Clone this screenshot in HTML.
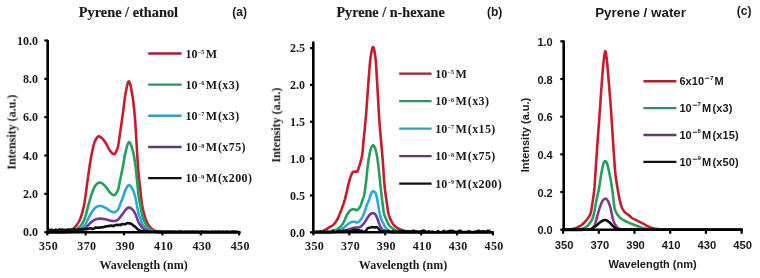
<!DOCTYPE html>
<html><head><meta charset="utf-8"><style>
html,body{margin:0;padding:0;background:#fff;}
svg{display:block;filter:blur(0.3px);}
text{will-change:transform;}
</style></head><body>
<svg width="760" height="278" viewBox="0 0 760 278">
<rect width="760" height="278" fill="#fff"/>
<g id="pa">
<path d="M47.00 232.20 L47.50 232.20 L48.00 232.20 L48.50 232.20 L49.00 232.20 L49.50 232.20 L50.00 232.20 L50.50 232.20 L51.00 232.20 L51.50 232.20 L52.00 232.20 L52.50 232.20 L53.00 232.20 L53.50 232.20 L54.00 232.20 L54.50 232.20 L55.00 232.20 L55.50 232.20 L56.00 232.20 L56.50 232.20 L57.00 232.20 L57.50 232.20 L58.00 232.20 L58.50 232.20 L59.00 232.20 L59.50 232.20 L60.00 232.20 L60.50 232.19 L61.00 232.18 L61.50 232.15 L62.00 232.11 L62.50 232.07 L63.00 232.02 L63.50 231.96 L64.00 231.90 L64.50 231.84 L65.00 231.77 L65.50 231.70 L66.00 231.62 L66.50 231.55 L67.00 231.46 L67.50 231.36 L68.00 231.25 L68.50 231.12 L69.00 230.98 L69.50 230.83 L70.00 230.66 L70.50 230.48 L71.00 230.28 L71.50 230.04 L72.00 229.74 L72.50 229.38 L73.00 228.97 L73.50 228.53 L74.00 228.05 L74.50 227.54 L75.00 227.02 L75.50 226.48 L76.00 225.90 L76.50 225.27 L77.00 224.60 L77.50 223.87 L78.00 223.09 L78.50 222.24 L79.00 221.33 L79.50 220.35 L80.00 219.27 L80.50 218.05 L81.00 216.68 L81.50 215.16 L82.00 213.48 L82.50 211.67 L83.00 209.71 L83.50 207.60 L84.00 205.36 L84.50 202.72 L85.00 199.53 L85.50 195.94 L86.00 192.11 L86.50 188.19 L87.00 184.35 L87.50 180.74 L88.00 177.33 L88.50 173.86 L89.00 170.37 L89.50 166.94 L90.00 163.61 L90.50 160.46 L91.00 157.55 L91.50 154.94 L92.00 152.51 L92.50 150.12 L93.00 147.85 L93.50 145.75 L94.00 143.88 L94.50 142.33 L95.00 141.14 L95.50 140.17 L96.00 139.24 L96.50 138.38 L97.00 137.63 L97.50 137.02 L98.00 136.59 L98.50 136.37 L99.00 136.37 L99.50 136.50 L100.00 136.73 L100.50 137.02 L101.00 137.37 L101.50 137.75 L102.00 138.13 L102.50 138.57 L103.00 139.11 L103.50 139.73 L104.00 140.42 L104.50 141.16 L105.00 141.93 L105.50 142.71 L106.00 143.48 L106.50 144.31 L107.00 145.23 L107.50 146.22 L108.00 147.22 L108.50 148.20 L109.00 149.12 L109.50 149.93 L110.00 150.61 L110.50 151.22 L111.00 151.84 L111.50 152.44 L112.00 152.99 L112.50 153.47 L113.00 153.84 L113.50 154.09 L114.00 154.18 L114.50 154.02 L115.00 153.56 L115.50 152.86 L116.00 151.94 L116.50 150.85 L117.00 149.64 L117.50 148.35 L118.00 146.55 L118.50 143.95 L119.00 140.77 L119.50 137.23 L120.00 133.58 L120.50 130.02 L121.00 126.70 L121.50 123.30 L122.00 119.82 L122.50 116.26 L123.00 112.66 L123.50 108.77 L124.00 104.60 L124.50 100.48 L125.00 96.74 L125.50 93.72 L126.00 91.11 L126.50 88.52 L127.00 86.09 L127.50 84.00 L128.00 82.41 L128.50 81.49 L129.00 81.40 L129.50 82.09 L130.00 83.45 L130.50 85.34 L131.00 87.65 L131.50 90.24 L132.00 92.98 L132.50 95.78 L133.00 99.13 L133.50 103.22 L134.00 107.95 L134.50 113.21 L135.00 118.92 L135.50 125.54 L136.00 133.69 L136.50 142.41 L137.00 150.73 L137.50 158.84 L138.00 166.88 L138.50 173.74 L139.00 178.79 L139.50 182.88 L140.00 186.77 L140.50 191.19 L141.00 196.06 L141.50 200.62 L142.00 204.14 L142.50 206.91 L143.00 209.35 L143.50 211.51 L144.00 213.46 L144.50 215.26 L145.00 216.96 L145.50 218.56 L146.00 220.02 L146.50 221.31 L147.00 222.39 L147.50 223.32 L148.00 224.19 L148.50 224.99 L149.00 225.72 L149.50 226.38 L150.00 226.98 L150.50 227.51 L151.00 227.98 L151.50 228.39 L152.00 228.79 L152.50 229.16 L153.00 229.51 L153.50 229.83 L154.00 230.12 L154.50 230.39 L155.00 230.62 L155.50 230.82 L156.00 230.99 L156.50 231.15 L157.00 231.30 L157.50 231.44 L158.00 231.58 L158.50 231.71 L159.00 231.83 L159.50 231.93 L160.00 232.02 L160.50 232.10 L161.00 232.15 L161.50 232.19 L162.00 232.20 L162.50 232.20 L163.00 232.20 L163.50 232.20 L164.00 232.20 L164.50 232.20 L165.00 232.20 L165.50 232.20 L166.00 232.20 L166.50 232.20 L167.00 232.20 L167.50 232.20 L168.00 232.20 L168.50 232.20 L169.00 232.20 L169.50 232.20 L170.00 232.20 L170.50 232.20 L171.00 232.20 L171.50 232.20 L172.00 232.20 L172.50 232.20 L173.00 232.20 L173.50 232.20 L174.00 232.20 L174.50 232.20 L175.00 232.20 L175.50 232.20 L176.00 232.20 L176.50 232.20 L177.00 232.20 L177.50 232.20 L178.00 232.20 L178.50 232.20 L179.00 232.20 L179.50 232.20 L180.00 232.20 L180.50 232.20 L181.00 232.20 L181.50 232.20 L182.00 232.20 L182.50 232.20 L183.00 232.20 L183.50 232.20 L184.00 232.20 L184.50 232.20 L185.00 232.20 L185.50 232.20 L186.00 232.20 L186.50 232.20 L187.00 232.20 L187.50 232.20 L188.00 232.20 L188.50 232.20 L189.00 232.20 L189.50 232.20 L190.00 232.20 L190.50 232.20 L191.00 232.20 L191.50 232.20 L192.00 232.20 L192.50 232.20 L193.00 232.20 L193.50 232.20 L194.00 232.20 L194.50 232.20 L195.00 232.20 L195.50 232.20 L196.00 232.20 L196.50 232.20 L197.00 232.20 L197.50 232.20 L198.00 232.20 L198.50 232.20 L199.00 232.20 L199.50 232.20 L200.00 232.20 L200.50 232.20 L201.00 232.20 L201.50 232.20 L202.00 232.20 L202.50 232.20 L203.00 232.20 L203.50 232.20 L204.00 232.20 L204.50 232.20 L205.00 232.20 L205.50 232.20 L206.00 232.20 L206.50 232.20 L207.00 232.20 L207.50 232.20 L208.00 232.20 L208.50 232.20 L209.00 232.20 L209.50 232.20 L210.00 232.20 L210.50 232.20 L211.00 232.20 L211.50 232.20 L212.00 232.20 L212.50 232.20 L213.00 232.20 L213.50 232.20 L214.00 232.20 L214.50 232.20 L215.00 232.20 L215.50 232.20 L216.00 232.20 L216.50 232.20 L217.00 232.20 L217.50 232.20 L218.00 232.20 L218.50 232.20 L219.00 232.20 L219.50 232.20 L220.00 232.20 L220.50 232.20 L221.00 232.20 L221.50 232.20 L222.00 232.20 L222.50 232.20 L223.00 232.20 L223.50 232.20 L224.00 232.20 L224.50 232.20 L225.00 232.20 L225.50 232.20 L226.00 232.20 L226.50 232.20 L227.00 232.20 L227.50 232.20 L228.00 232.20 L228.50 232.20 L229.00 232.20 L229.50 232.20 L230.00 232.20 L230.50 232.20 L231.00 232.20 L231.50 232.20 L232.00 232.20 L232.50 232.20 L233.00 232.20 L233.50 232.20 L234.00 232.20 L234.50 232.20 L235.00 232.20 L235.50 232.20 L236.00 232.20 L236.50 232.20 L237.00 232.20 L237.50 232.20 L238.00 232.20 L238.50 232.20 L239.00 232.20" fill="none" stroke="#CA1B2D" stroke-width="2.60" stroke-linejoin="round" stroke-linecap="round" />
<path d="M47.00 232.20 L47.50 232.20 L48.00 232.20 L48.50 232.20 L49.00 232.20 L49.50 232.20 L50.00 232.20 L50.50 232.20 L51.00 232.20 L51.50 232.20 L52.00 232.20 L52.50 232.20 L53.00 232.20 L53.50 232.20 L54.00 232.20 L54.50 232.20 L55.00 232.20 L55.50 232.20 L56.00 232.20 L56.50 232.20 L57.00 232.20 L57.50 232.20 L58.00 232.20 L58.50 232.20 L59.00 232.20 L59.50 232.20 L60.00 232.20 L60.50 232.20 L61.00 232.19 L61.50 232.18 L62.00 232.17 L62.50 232.15 L63.00 232.13 L63.50 232.10 L64.00 232.08 L64.50 232.05 L65.00 232.02 L65.50 231.99 L66.00 231.96 L66.50 231.92 L67.00 231.89 L67.50 231.85 L68.00 231.80 L68.50 231.75 L69.00 231.69 L69.50 231.62 L70.00 231.54 L70.50 231.46 L71.00 231.37 L71.50 231.27 L72.00 231.16 L72.50 231.02 L73.00 230.85 L73.50 230.66 L74.00 230.44 L74.50 230.20 L75.00 229.95 L75.50 229.68 L76.00 229.41 L76.50 229.12 L77.00 228.81 L77.50 228.47 L78.00 228.11 L78.50 227.73 L79.00 227.31 L79.50 226.86 L80.00 226.37 L80.50 225.84 L81.00 225.26 L81.50 224.60 L82.00 223.85 L82.50 223.03 L83.00 222.14 L83.50 221.17 L84.00 220.12 L84.50 219.00 L85.00 217.79 L85.50 216.30 L86.00 214.55 L86.50 212.63 L87.00 210.62 L87.50 208.60 L88.00 206.65 L88.50 204.84 L89.00 203.06 L89.50 201.26 L90.00 199.46 L90.50 197.70 L91.00 196.01 L91.50 194.42 L92.00 192.97 L92.50 191.68 L93.00 190.42 L93.50 189.20 L94.00 188.06 L94.50 187.01 L95.00 186.11 L95.50 185.38 L96.00 184.83 L96.50 184.33 L97.00 183.86 L97.50 183.44 L98.00 183.08 L98.50 182.80 L99.00 182.61 L99.50 182.55 L100.00 182.60 L100.50 182.73 L101.00 182.93 L101.50 183.18 L102.00 183.45 L102.50 183.74 L103.00 184.05 L103.50 184.44 L104.00 184.90 L104.50 185.42 L105.00 185.97 L105.50 186.54 L106.00 187.13 L106.50 187.71 L107.00 188.34 L107.50 189.05 L108.00 189.79 L108.50 190.54 L109.00 191.26 L109.50 191.91 L110.00 192.47 L110.50 192.93 L111.00 193.40 L111.50 193.85 L112.00 194.28 L112.50 194.65 L113.00 194.94 L113.50 195.13 L114.00 195.20 L114.50 195.09 L115.00 194.77 L115.50 194.27 L116.00 193.63 L116.50 192.86 L117.00 192.01 L117.50 191.09 L118.00 189.89 L118.50 188.12 L119.00 185.91 L119.50 183.43 L120.00 180.82 L120.50 178.25 L121.00 175.84 L121.50 173.44 L122.00 170.97 L122.50 168.44 L123.00 165.88 L123.50 163.21 L124.00 160.28 L124.50 157.29 L125.00 154.47 L125.50 152.05 L126.00 150.14 L126.50 148.27 L127.00 146.46 L127.50 144.83 L128.00 143.48 L128.50 142.54 L129.00 142.11 L129.50 142.25 L130.00 142.84 L130.50 143.78 L131.00 145.02 L131.50 146.47 L132.00 148.07 L132.50 149.73 L133.00 151.47 L133.50 153.66 L134.00 156.26 L134.50 159.22 L135.00 162.48 L135.50 166.00 L136.00 170.37 L136.50 175.44 L137.00 180.63 L137.50 185.45 L138.00 190.35 L138.50 194.95 L139.00 198.59 L139.50 201.32 L140.00 203.66 L140.50 206.07 L141.00 208.86 L141.50 211.75 L142.00 214.28 L142.50 216.13 L143.00 217.70 L143.50 219.09 L144.00 220.32 L144.50 221.45 L145.00 222.49 L145.50 223.49 L146.00 224.41 L146.50 225.25 L147.00 225.97 L147.50 226.57 L148.00 227.11 L148.50 227.61 L149.00 228.07 L149.50 228.49 L150.00 228.87 L150.50 229.22 L151.00 229.52 L151.50 229.78 L152.00 230.02 L152.50 230.25 L153.00 230.47 L153.50 230.67 L154.00 230.86 L154.50 231.02 L155.00 231.17 L155.50 231.31 L156.00 231.42 L156.50 231.52 L157.00 231.61 L157.50 231.69 L158.00 231.78 L158.50 231.86 L159.00 231.94 L159.50 232.00 L160.00 232.06 L160.50 232.11 L161.00 232.15 L161.50 232.18 L162.00 232.20 L162.50 232.20 L163.00 232.20 L163.50 232.20 L164.00 232.20 L164.50 232.20 L165.00 232.20 L165.50 232.20 L166.00 232.20 L166.50 232.20 L167.00 232.20 L167.50 232.20 L168.00 232.20 L168.50 232.20 L169.00 232.20 L169.50 232.20 L170.00 232.20 L170.50 232.20 L171.00 232.20 L171.50 232.20 L172.00 232.20 L172.50 232.20 L173.00 232.20 L173.50 232.20 L174.00 232.20 L174.50 232.20 L175.00 232.20 L175.50 232.20 L176.00 232.20 L176.50 232.20 L177.00 232.20 L177.50 232.20 L178.00 232.20 L178.50 232.20 L179.00 232.20 L179.50 232.20 L180.00 232.20 L180.50 232.20 L181.00 232.20 L181.50 232.20 L182.00 232.20 L182.50 232.20 L183.00 232.20 L183.50 232.20 L184.00 232.20 L184.50 232.20 L185.00 232.20 L185.50 232.20 L186.00 232.20 L186.50 232.20 L187.00 232.20 L187.50 232.20 L188.00 232.20 L188.50 232.20 L189.00 232.20 L189.50 232.20 L190.00 232.20 L190.50 232.20 L191.00 232.20 L191.50 232.20 L192.00 232.20 L192.50 232.20 L193.00 232.20 L193.50 232.20 L194.00 232.20 L194.50 232.20 L195.00 232.20 L195.50 232.20 L196.00 232.20 L196.50 232.20 L197.00 232.20 L197.50 232.20 L198.00 232.20 L198.50 232.20 L199.00 232.20 L199.50 232.20 L200.00 232.20 L200.50 232.20 L201.00 232.20 L201.50 232.20 L202.00 232.20 L202.50 232.20 L203.00 232.20 L203.50 232.20 L204.00 232.20 L204.50 232.20 L205.00 232.20 L205.50 232.20 L206.00 232.20 L206.50 232.20 L207.00 232.20 L207.50 232.20 L208.00 232.20 L208.50 232.20 L209.00 232.20 L209.50 232.20 L210.00 232.20 L210.50 232.20 L211.00 232.20 L211.50 232.20 L212.00 232.20 L212.50 232.20 L213.00 232.20 L213.50 232.20 L214.00 232.20 L214.50 232.20 L215.00 232.20 L215.50 232.20 L216.00 232.20 L216.50 232.20 L217.00 232.20 L217.50 232.20 L218.00 232.20 L218.50 232.20 L219.00 232.20 L219.50 232.20 L220.00 232.20 L220.50 232.20 L221.00 232.20 L221.50 232.20 L222.00 232.20 L222.50 232.20 L223.00 232.20 L223.50 232.20 L224.00 232.20 L224.50 232.20 L225.00 232.20 L225.50 232.20 L226.00 232.20 L226.50 232.20 L227.00 232.20 L227.50 232.20 L228.00 232.20 L228.50 232.20 L229.00 232.20 L229.50 232.20 L230.00 232.20 L230.50 232.20 L231.00 232.20 L231.50 232.20 L232.00 232.20 L232.50 232.20 L233.00 232.20 L233.50 232.20 L234.00 232.20 L234.50 232.20 L235.00 232.20 L235.50 232.20 L236.00 232.20 L236.50 232.20 L237.00 232.20 L237.50 232.20 L238.00 232.20 L238.50 232.20 L239.00 232.20" fill="none" stroke="#22A05C" stroke-width="2.60" stroke-linejoin="round" stroke-linecap="round" />
<path d="M47.00 232.20 L47.50 232.20 L48.00 232.20 L48.50 232.20 L49.00 232.20 L49.50 232.20 L50.00 232.20 L50.50 232.20 L51.00 232.20 L51.50 232.20 L52.00 232.20 L52.50 232.20 L53.00 232.20 L53.50 232.20 L54.00 232.20 L54.50 232.20 L55.00 232.20 L55.50 232.20 L56.00 232.20 L56.50 232.20 L57.00 232.20 L57.50 232.20 L58.00 232.20 L58.50 232.20 L59.00 232.20 L59.50 232.20 L60.00 232.20 L60.50 232.20 L61.00 232.20 L61.50 232.19 L62.00 232.18 L62.50 232.17 L63.00 232.16 L63.50 232.15 L64.00 232.14 L64.50 232.13 L65.00 232.11 L65.50 232.09 L66.00 232.08 L66.50 232.06 L67.00 232.04 L67.50 232.02 L68.00 232.00 L68.50 231.97 L69.00 231.94 L69.50 231.91 L70.00 231.87 L70.50 231.83 L71.00 231.78 L71.50 231.73 L72.00 231.67 L72.50 231.61 L73.00 231.53 L73.50 231.43 L74.00 231.32 L74.50 231.19 L75.00 231.06 L75.50 230.92 L76.00 230.78 L76.50 230.63 L77.00 230.47 L77.50 230.30 L78.00 230.12 L78.50 229.92 L79.00 229.70 L79.50 229.47 L80.00 229.22 L80.50 228.95 L81.00 228.66 L81.50 228.32 L82.00 227.95 L82.50 227.53 L83.00 227.07 L83.50 226.57 L84.00 226.04 L84.50 225.46 L85.00 224.85 L85.50 224.12 L86.00 223.25 L86.50 222.26 L87.00 221.21 L87.50 220.14 L88.00 219.09 L88.50 218.10 L89.00 217.17 L89.50 216.21 L90.00 215.26 L90.50 214.32 L91.00 213.41 L91.50 212.54 L92.00 211.75 L92.50 211.03 L93.00 210.37 L93.50 209.71 L94.00 209.09 L94.50 208.51 L95.00 208.00 L95.50 207.58 L96.00 207.25 L96.50 206.98 L97.00 206.73 L97.50 206.49 L98.00 206.29 L98.50 206.12 L99.00 206.00 L99.50 205.94 L100.00 205.95 L100.50 206.00 L101.00 206.09 L101.50 206.21 L102.00 206.34 L102.50 206.49 L103.00 206.64 L103.50 206.82 L104.00 207.05 L104.50 207.30 L105.00 207.58 L105.50 207.86 L106.00 208.16 L106.50 208.45 L107.00 208.77 L107.50 209.12 L108.00 209.49 L108.50 209.87 L109.00 210.24 L109.50 210.58 L110.00 210.87 L110.50 211.11 L111.00 211.34 L111.50 211.57 L112.00 211.79 L112.50 211.98 L113.00 212.13 L113.50 212.23 L114.00 212.26 L114.50 212.20 L115.00 212.04 L115.50 211.78 L116.00 211.45 L116.50 211.05 L117.00 210.61 L117.50 210.13 L118.00 209.50 L118.50 208.57 L119.00 207.42 L119.50 206.13 L120.00 204.78 L120.50 203.46 L121.00 202.23 L121.50 200.98 L122.00 199.70 L122.50 198.40 L123.00 197.07 L123.50 195.68 L124.00 194.16 L124.50 192.62 L125.00 191.19 L125.50 189.98 L126.00 189.01 L126.50 188.05 L127.00 187.12 L127.50 186.30 L128.00 185.64 L128.50 185.20 L129.00 185.04 L129.50 185.17 L130.00 185.51 L130.50 186.04 L131.00 186.72 L131.50 187.49 L132.00 188.34 L132.50 189.21 L133.00 190.16 L133.50 191.35 L134.00 192.75 L134.50 194.33 L135.00 196.06 L135.50 197.96 L136.00 200.35 L136.50 203.04 L137.00 205.73 L137.50 208.24 L138.00 210.80 L138.50 213.13 L139.00 214.92 L139.50 216.29 L140.00 217.51 L140.50 218.80 L141.00 220.29 L141.50 221.78 L142.00 223.04 L142.50 223.96 L143.00 224.76 L143.50 225.47 L144.00 226.11 L144.50 226.68 L145.00 227.23 L145.50 227.74 L146.00 228.22 L146.50 228.64 L147.00 229.01 L147.50 229.31 L148.00 229.59 L148.50 229.85 L149.00 230.08 L149.50 230.30 L150.00 230.50 L150.50 230.67 L151.00 230.82 L151.50 230.96 L152.00 231.08 L152.50 231.20 L153.00 231.32 L153.50 231.42 L154.00 231.51 L154.50 231.60 L155.00 231.68 L155.50 231.75 L156.00 231.80 L156.50 231.85 L157.00 231.90 L157.50 231.94 L158.00 231.99 L158.50 232.03 L159.00 232.07 L159.50 232.10 L160.00 232.13 L160.50 232.16 L161.00 232.18 L161.50 232.19 L162.00 232.20 L162.50 232.20 L163.00 232.20 L163.50 232.20 L164.00 232.20 L164.50 232.20 L165.00 232.20 L165.50 232.20 L166.00 232.20 L166.50 232.20 L167.00 232.20 L167.50 232.20 L168.00 232.20 L168.50 232.20 L169.00 232.20 L169.50 232.20 L170.00 232.20 L170.50 232.20 L171.00 232.20 L171.50 232.20 L172.00 232.20 L172.50 232.20 L173.00 232.20 L173.50 232.20 L174.00 232.20 L174.50 232.20 L175.00 232.20 L175.50 232.20 L176.00 232.20 L176.50 232.20 L177.00 232.20 L177.50 232.20 L178.00 232.20 L178.50 232.20 L179.00 232.20 L179.50 232.20 L180.00 232.20 L180.50 232.20 L181.00 232.20 L181.50 232.20 L182.00 232.20 L182.50 232.20 L183.00 232.20 L183.50 232.20 L184.00 232.20 L184.50 232.20 L185.00 232.20 L185.50 232.20 L186.00 232.20 L186.50 232.20 L187.00 232.20 L187.50 232.20 L188.00 232.20 L188.50 232.20 L189.00 232.20 L189.50 232.20 L190.00 232.20 L190.50 232.20 L191.00 232.20 L191.50 232.20 L192.00 232.20 L192.50 232.20 L193.00 232.20 L193.50 232.20 L194.00 232.20 L194.50 232.20 L195.00 232.20 L195.50 232.20 L196.00 232.20 L196.50 232.20 L197.00 232.20 L197.50 232.20 L198.00 232.20 L198.50 232.20 L199.00 232.20 L199.50 232.20 L200.00 232.20 L200.50 232.20 L201.00 232.20 L201.50 232.20 L202.00 232.20 L202.50 232.20 L203.00 232.20 L203.50 232.20 L204.00 232.20 L204.50 232.20 L205.00 232.20 L205.50 232.20 L206.00 232.20 L206.50 232.20 L207.00 232.20 L207.50 232.20 L208.00 232.20 L208.50 232.20 L209.00 232.20 L209.50 232.20 L210.00 232.20 L210.50 232.20 L211.00 232.20 L211.50 232.20 L212.00 232.20 L212.50 232.20 L213.00 232.20 L213.50 232.20 L214.00 232.20 L214.50 232.20 L215.00 232.20 L215.50 232.20 L216.00 232.20 L216.50 232.20 L217.00 232.20 L217.50 232.20 L218.00 232.20 L218.50 232.20 L219.00 232.20 L219.50 232.20 L220.00 232.20 L220.50 232.20 L221.00 232.20 L221.50 232.20 L222.00 232.20 L222.50 232.20 L223.00 232.20 L223.50 232.20 L224.00 232.20 L224.50 232.20 L225.00 232.20 L225.50 232.20 L226.00 232.20 L226.50 232.20 L227.00 232.20 L227.50 232.20 L228.00 232.20 L228.50 232.20 L229.00 232.20 L229.50 232.20 L230.00 232.20 L230.50 232.20 L231.00 232.20 L231.50 232.20 L232.00 232.20 L232.50 232.20 L233.00 232.20 L233.50 232.20 L234.00 232.20 L234.50 232.20 L235.00 232.20 L235.50 232.20 L236.00 232.20 L236.50 232.20 L237.00 232.20 L237.50 232.20 L238.00 232.20 L238.50 232.20 L239.00 232.20" fill="none" stroke="#2AA8D6" stroke-width="2.60" stroke-linejoin="round" stroke-linecap="round" />
<path d="M47.00 232.20 L47.50 232.20 L48.00 232.20 L48.50 232.20 L49.00 232.20 L49.50 232.20 L50.00 232.20 L50.50 232.20 L51.00 232.20 L51.50 232.20 L52.00 232.20 L52.50 232.20 L53.00 232.20 L53.50 232.20 L54.00 232.20 L54.50 232.20 L55.00 232.20 L55.50 232.20 L56.00 232.20 L56.50 232.20 L57.00 232.20 L57.50 232.20 L58.00 232.20 L58.50 232.20 L59.00 232.20 L59.50 232.20 L60.00 232.20 L60.50 232.20 L61.00 232.20 L61.50 232.20 L62.00 232.19 L62.50 232.19 L63.00 232.18 L63.50 232.18 L64.00 232.17 L64.50 232.16 L65.00 232.15 L65.50 232.15 L66.00 232.14 L66.50 232.13 L67.00 232.12 L67.50 232.11 L68.00 232.10 L68.50 232.08 L69.00 232.07 L69.50 232.05 L70.00 232.03 L70.50 232.01 L71.00 231.98 L71.50 231.96 L72.00 231.93 L72.50 231.89 L73.00 231.85 L73.50 231.80 L74.00 231.74 L74.50 231.68 L75.00 231.61 L75.50 231.54 L76.00 231.47 L76.50 231.39 L77.00 231.31 L77.50 231.22 L78.00 231.12 L78.50 231.02 L79.00 230.91 L79.50 230.79 L80.00 230.66 L80.50 230.52 L81.00 230.36 L81.50 230.19 L82.00 230.00 L82.50 229.78 L83.00 229.54 L83.50 229.28 L84.00 229.01 L84.50 228.71 L85.00 228.39 L85.50 228.01 L86.00 227.56 L86.50 227.05 L87.00 226.51 L87.50 225.95 L88.00 225.41 L88.50 224.89 L89.00 224.41 L89.50 223.92 L90.00 223.42 L90.50 222.93 L91.00 222.46 L91.50 222.01 L92.00 221.60 L92.50 221.23 L93.00 220.88 L93.50 220.55 L94.00 220.22 L94.50 219.92 L95.00 219.66 L95.50 219.44 L96.00 219.27 L96.50 219.13 L97.00 219.00 L97.50 218.88 L98.00 218.77 L98.50 218.68 L99.00 218.62 L99.50 218.59 L100.00 218.59 L100.50 218.61 L101.00 218.65 L101.50 218.70 L102.00 218.75 L102.50 218.81 L103.00 218.86 L103.50 218.94 L104.00 219.03 L104.50 219.13 L105.00 219.23 L105.50 219.35 L106.00 219.47 L106.50 219.58 L107.00 219.70 L107.50 219.84 L108.00 219.99 L108.50 220.14 L109.00 220.29 L109.50 220.42 L110.00 220.53 L110.50 220.63 L111.00 220.72 L111.50 220.81 L112.00 220.89 L112.50 220.97 L113.00 221.03 L113.50 221.07 L114.00 221.08 L114.50 221.05 L115.00 220.97 L115.50 220.84 L116.00 220.67 L116.50 220.47 L117.00 220.25 L117.50 220.02 L118.00 219.70 L118.50 219.23 L119.00 218.66 L119.50 218.01 L120.00 217.34 L120.50 216.68 L121.00 216.06 L121.50 215.44 L122.00 214.80 L122.50 214.15 L123.00 213.49 L123.50 212.79 L124.00 212.03 L124.50 211.26 L125.00 210.54 L125.50 209.94 L126.00 209.46 L126.50 208.97 L127.00 208.51 L127.50 208.10 L128.00 207.77 L128.50 207.55 L129.00 207.47 L129.50 207.54 L130.00 207.72 L130.50 208.00 L131.00 208.35 L131.50 208.76 L132.00 209.20 L132.50 209.65 L133.00 210.15 L133.50 210.78 L134.00 211.51 L134.50 212.34 L135.00 213.25 L135.50 214.25 L136.00 215.50 L136.50 216.91 L137.00 218.32 L137.50 219.64 L138.00 220.98 L138.50 222.20 L139.00 223.14 L139.50 223.86 L140.00 224.49 L140.50 225.17 L141.00 225.96 L141.50 226.74 L142.00 227.40 L142.50 227.88 L143.00 228.30 L143.50 228.67 L144.00 229.00 L144.50 229.31 L145.00 229.59 L145.50 229.86 L146.00 230.11 L146.50 230.33 L147.00 230.53 L147.50 230.69 L148.00 230.83 L148.50 230.97 L149.00 231.09 L149.50 231.20 L150.00 231.31 L150.50 231.40 L151.00 231.48 L151.50 231.55 L152.00 231.62 L152.50 231.68 L153.00 231.74 L153.50 231.79 L154.00 231.84 L154.50 231.89 L155.00 231.93 L155.50 231.96 L156.00 231.99 L156.50 232.02 L157.00 232.04 L157.50 232.07 L158.00 232.09 L158.50 232.11 L159.00 232.13 L159.50 232.15 L160.00 232.17 L160.50 232.18 L161.00 232.19 L161.50 232.20 L162.00 232.20 L162.50 232.20 L163.00 232.20 L163.50 232.20 L164.00 232.20 L164.50 232.20 L165.00 232.20 L165.50 232.20 L166.00 232.20 L166.50 232.20 L167.00 232.20 L167.50 232.20 L168.00 232.20 L168.50 232.20 L169.00 232.20 L169.50 232.20 L170.00 232.20 L170.50 232.20 L171.00 232.20 L171.50 232.20 L172.00 232.20 L172.50 232.20 L173.00 232.20 L173.50 232.20 L174.00 232.20 L174.50 232.20 L175.00 232.20 L175.50 232.20 L176.00 232.20 L176.50 232.20 L177.00 232.20 L177.50 232.20 L178.00 232.20 L178.50 232.20 L179.00 232.20 L179.50 232.20 L180.00 232.20 L180.50 232.20 L181.00 232.20 L181.50 232.20 L182.00 232.20 L182.50 232.20 L183.00 232.20 L183.50 232.20 L184.00 232.20 L184.50 232.20 L185.00 232.20 L185.50 232.20 L186.00 232.20 L186.50 232.20 L187.00 232.20 L187.50 232.20 L188.00 232.20 L188.50 232.20 L189.00 232.20 L189.50 232.20 L190.00 232.20 L190.50 232.20 L191.00 232.20 L191.50 232.20 L192.00 232.20 L192.50 232.20 L193.00 232.20 L193.50 232.20 L194.00 232.20 L194.50 232.20 L195.00 232.20 L195.50 232.20 L196.00 232.20 L196.50 232.20 L197.00 232.20 L197.50 232.20 L198.00 232.20 L198.50 232.20 L199.00 232.20 L199.50 232.20 L200.00 232.20 L200.50 232.20 L201.00 232.20 L201.50 232.20 L202.00 232.20 L202.50 232.20 L203.00 232.20 L203.50 232.20 L204.00 232.20 L204.50 232.20 L205.00 232.20 L205.50 232.20 L206.00 232.20 L206.50 232.20 L207.00 232.20 L207.50 232.20 L208.00 232.20 L208.50 232.20 L209.00 232.20 L209.50 232.20 L210.00 232.20 L210.50 232.20 L211.00 232.20 L211.50 232.20 L212.00 232.20 L212.50 232.20 L213.00 232.20 L213.50 232.20 L214.00 232.20 L214.50 232.20 L215.00 232.20 L215.50 232.20 L216.00 232.20 L216.50 232.20 L217.00 232.20 L217.50 232.20 L218.00 232.20 L218.50 232.20 L219.00 232.20 L219.50 232.20 L220.00 232.20 L220.50 232.20 L221.00 232.20 L221.50 232.20 L222.00 232.20 L222.50 232.20 L223.00 232.20 L223.50 232.20 L224.00 232.20 L224.50 232.20 L225.00 232.20 L225.50 232.20 L226.00 232.20 L226.50 232.20 L227.00 232.20 L227.50 232.20 L228.00 232.20 L228.50 232.20 L229.00 232.20 L229.50 232.20 L230.00 232.20 L230.50 232.20 L231.00 232.20 L231.50 232.20 L232.00 232.20 L232.50 232.20 L233.00 232.20 L233.50 232.20 L234.00 232.20 L234.50 232.20 L235.00 232.20 L235.50 232.20 L236.00 232.20 L236.50 232.20 L237.00 232.20 L237.50 232.20 L238.00 232.20 L238.50 232.20 L239.00 232.20" fill="none" stroke="#6E3A96" stroke-width="2.60" stroke-linejoin="round" stroke-linecap="round" />
<polyline points="47.5,230.2 48.7,229.8 49.9,230.0 51.1,229.8 52.3,229.8 53.5,230.4 54.7,230.5 55.9,229.5 57.1,230.2 58.3,230.2 59.5,229.3 60.7,229.9 61.9,229.5 63.1,229.9 64.3,229.7 65.5,230.3 66.7,229.7 67.9,229.4 69.1,229.8 70.3,229.5 71.5,229.6 72.7,230.3 73.9,229.4 75.1,229.6 76.3,229.9 77.5,230.2 78.7,229.2 79.9,229.6 81.1,229.3 82.3,229.0 83.5,229.2 84.7,228.9 85.9,229.4 87.1,228.8 88.3,229.0 89.5,228.3 90.7,228.2 91.9,228.9 93.1,228.7 94.3,228.4 95.5,227.4 96.7,227.8 97.9,227.5 99.1,227.7 100.3,227.4 101.5,227.4 102.7,227.3 103.9,226.9 105.1,226.7 106.3,226.2 107.5,226.3 108.7,225.9 109.9,225.9 111.1,225.6 112.3,225.8 113.5,226.2 114.7,225.3 115.9,225.0 117.1,224.9 118.3,225.1 119.5,224.8 120.7,225.1 121.9,224.1 123.1,224.1 124.3,224.2 125.5,224.2 126.7,223.2 127.9,223.0 129.1,223.4 130.3,223.4 131.5,224.0 132.7,224.9 133.9,225.9 135.1,226.8 136.3,227.8 137.5,229.1 138.7,229.8 139.9,230.8 141.1,230.9 142.3,231.2 143.5,231.2 144.7,231.2 145.9,231.5 147.1,231.3 148.3,231.6 149.5,231.7 150.7,231.5 151.9,231.8 153.1,231.7 154.3,231.6 155.5,231.6 156.7,231.7 157.9,231.8 159.1,231.5 160.3,231.7 161.5,231.4 162.7,231.5 163.9,231.7 165.1,231.6 166.3,231.6 167.5,231.6 168.7,231.6 169.9,231.6 171.1,231.6 172.3,231.5 173.5,231.6 174.7,231.7 175.9,231.5 177.1,231.7 178.3,231.7 179.5,231.4 180.7,231.6 181.9,231.6 183.1,231.8 184.3,231.7 185.5,231.6 186.7,231.8 187.9,231.6 189.1,231.6 190.3,231.8 191.5,231.6 192.7,231.6 193.9,231.6 195.1,231.7 196.3,231.5 197.5,231.5 198.7,231.8 199.9,231.8 201.1,231.6 202.3,231.4 203.5,231.7 204.7,231.6 205.9,231.6 207.1,231.7 208.3,231.7 209.5,231.7 210.7,231.7 211.9,231.6 213.1,231.7 214.3,231.7 215.5,231.5 216.7,231.8 217.9,231.6 219.1,231.5 220.3,231.7 221.5,231.7 222.7,231.5 223.9,231.7 225.1,231.7 226.3,231.6 227.5,231.5 228.7,231.8 229.9,231.7 231.1,231.7 232.3,231.5 233.5,231.6 234.7,231.5 235.9,231.8 237.1,231.7 238.3,231.6" fill="none" stroke="#111" stroke-width="2.6" stroke-linejoin="round"/>
<path d="M47.7 41 V232.2 M47.2 232.2 H239.5" stroke="#000" stroke-width="2.6" fill="none" stroke-linecap="round"/>
<path d="M44.3 40.50 H48" stroke="#000" stroke-width="2.2"/>
<text x="38.00" y="44.70" font-family="'Liberation Serif', serif" font-size="12.00" font-weight="bold" text-anchor="end" fill="#1a1a1a" >10.0</text>
<path d="M44.3 78.84 H48" stroke="#000" stroke-width="2.2"/>
<text x="38.00" y="83.04" font-family="'Liberation Serif', serif" font-size="12.00" font-weight="bold" text-anchor="end" fill="#1a1a1a" >8.0</text>
<path d="M44.3 117.18 H48" stroke="#000" stroke-width="2.2"/>
<text x="38.00" y="121.38" font-family="'Liberation Serif', serif" font-size="12.00" font-weight="bold" text-anchor="end" fill="#1a1a1a" >6.0</text>
<path d="M44.3 155.52 H48" stroke="#000" stroke-width="2.2"/>
<text x="38.00" y="159.72" font-family="'Liberation Serif', serif" font-size="12.00" font-weight="bold" text-anchor="end" fill="#1a1a1a" >4.0</text>
<path d="M44.3 193.86 H48" stroke="#000" stroke-width="2.2"/>
<text x="38.00" y="198.06" font-family="'Liberation Serif', serif" font-size="12.00" font-weight="bold" text-anchor="end" fill="#1a1a1a" >2.0</text>
<path d="M44.3 232.20 H48" stroke="#000" stroke-width="2.2"/>
<text x="38.00" y="236.40" font-family="'Liberation Serif', serif" font-size="12.00" font-weight="bold" text-anchor="end" fill="#1a1a1a" >0.0</text>
<path d="M47.30 232 V235.4" stroke="#000" stroke-width="2.2"/>
<text x="48.50" y="250.20" font-family="'Liberation Serif', serif" font-size="12.00" font-weight="bold" text-anchor="middle" fill="#1a1a1a" letter-spacing="0.35">350</text>
<path d="M85.66 232 V235.4" stroke="#000" stroke-width="2.2"/>
<text x="86.86" y="250.20" font-family="'Liberation Serif', serif" font-size="12.00" font-weight="bold" text-anchor="middle" fill="#1a1a1a" letter-spacing="0.35">370</text>
<path d="M124.02 232 V235.4" stroke="#000" stroke-width="2.2"/>
<text x="125.22" y="250.20" font-family="'Liberation Serif', serif" font-size="12.00" font-weight="bold" text-anchor="middle" fill="#1a1a1a" letter-spacing="0.35">390</text>
<path d="M162.38 232 V235.4" stroke="#000" stroke-width="2.2"/>
<text x="163.58" y="250.20" font-family="'Liberation Serif', serif" font-size="12.00" font-weight="bold" text-anchor="middle" fill="#1a1a1a" letter-spacing="0.35">410</text>
<path d="M200.74 232 V235.4" stroke="#000" stroke-width="2.2"/>
<text x="201.94" y="250.20" font-family="'Liberation Serif', serif" font-size="12.00" font-weight="bold" text-anchor="middle" fill="#1a1a1a" letter-spacing="0.35">430</text>
<path d="M239.10 232 V235.4" stroke="#000" stroke-width="2.2"/>
<text x="240.30" y="250.20" font-family="'Liberation Serif', serif" font-size="12.00" font-weight="bold" text-anchor="middle" fill="#1a1a1a" letter-spacing="0.35">450</text>
<text x="143.60" y="269.00" font-family="'Liberation Serif', serif" font-size="12.00" font-weight="bold" text-anchor="middle" fill="#1a1a1a" >Wavelength (nm)</text>
<text transform="translate(15.6 132.2) rotate(-90)" font-family="'Liberation Serif', serif" font-size="12" font-weight="bold" text-anchor="middle" fill="#1a1a1a">Intensity (a.u.)</text>
<text transform="translate(128.4 17.3) scale(1.025 1)" font-family="'Liberation Serif', serif" font-size="14" font-weight="bold" text-anchor="middle" fill="#1a1a1a" stroke="#1a1a1a" stroke-width="0.15">Pyrene / ethanol</text>
<text x="239.70" y="15.60" font-family="'Liberation Sans', sans-serif" font-size="12.00" font-weight="bold" text-anchor="middle" fill="#1a1a1a" >(a)</text>
<path d="M148.2 53.50 H181.6" stroke="#A81C30" stroke-width="2.4"/>
<text x="185.5" y="57.50" font-family="'Liberation Serif', serif" font-size="12" font-weight="bold" fill="#1a1a1a">10<tspan font-size="6" dy="-3.4" dx="0.3">−5</tspan><tspan dy="3.4" dx="1.6">M</tspan><tspan dx="0.8" letter-spacing="0.4"></tspan></text>
<path d="M148.2 84.65 H181.6" stroke="#2E9162" stroke-width="2.4"/>
<text x="185.5" y="88.65" font-family="'Liberation Serif', serif" font-size="12" font-weight="bold" fill="#1a1a1a">10<tspan font-size="6" dy="-3.4" dx="0.3">−6</tspan><tspan dy="3.4" dx="1.6">M</tspan><tspan dx="0.8" letter-spacing="0.4">(x3)</tspan></text>
<path d="M148.2 115.80 H181.6" stroke="#3A9AC2" stroke-width="2.4"/>
<text x="185.5" y="119.80" font-family="'Liberation Serif', serif" font-size="12" font-weight="bold" fill="#1a1a1a">10<tspan font-size="6" dy="-3.4" dx="0.3">−7</tspan><tspan dy="3.4" dx="1.6">M</tspan><tspan dx="0.8" letter-spacing="0.4">(x3)</tspan></text>
<path d="M148.2 146.95 H181.6" stroke="#5C3D72" stroke-width="2.4"/>
<text x="185.5" y="150.95" font-family="'Liberation Serif', serif" font-size="12" font-weight="bold" fill="#1a1a1a">10<tspan font-size="6" dy="-3.4" dx="0.3">−8</tspan><tspan dy="3.4" dx="1.6">M</tspan><tspan dx="0.8" letter-spacing="0.4">(x75)</tspan></text>
<path d="M148.2 178.10 H181.6" stroke="#111" stroke-width="2.4"/>
<text x="185.5" y="182.10" font-family="'Liberation Serif', serif" font-size="12" font-weight="bold" fill="#1a1a1a">10<tspan font-size="6" dy="-3.4" dx="0.3">−9</tspan><tspan dy="3.4" dx="1.6">M</tspan><tspan dx="0.8" letter-spacing="0.4">(x200)</tspan></text>
</g>
<g id="pb">
<path d="M313.40 232.30 L313.90 232.29 L314.40 232.28 L314.90 232.26 L315.40 232.23 L315.90 232.19 L316.40 232.15 L316.90 232.11 L317.40 232.06 L317.90 232.01 L318.40 231.96 L318.90 231.89 L319.40 231.80 L319.90 231.71 L320.40 231.60 L320.90 231.49 L321.40 231.36 L321.90 231.23 L322.40 231.08 L322.90 230.90 L323.40 230.69 L323.90 230.47 L324.40 230.22 L324.90 229.97 L325.40 229.71 L325.90 229.45 L326.40 229.17 L326.90 228.86 L327.40 228.54 L327.90 228.21 L328.40 227.88 L328.90 227.56 L329.40 227.26 L329.90 226.97 L330.40 226.69 L330.90 226.41 L331.40 226.12 L331.90 225.80 L332.40 225.46 L332.90 225.08 L333.40 224.65 L333.90 224.16 L334.40 223.60 L334.90 223.00 L335.40 222.35 L335.90 221.65 L336.40 220.88 L336.90 220.02 L337.40 219.07 L337.90 218.06 L338.40 217.00 L338.90 215.90 L339.40 214.77 L339.90 213.59 L340.40 212.33 L340.90 211.01 L341.40 209.65 L341.90 208.28 L342.40 206.90 L342.90 205.51 L343.40 204.08 L343.90 202.59 L344.40 201.01 L344.90 199.29 L345.40 197.38 L345.90 195.31 L346.40 193.13 L346.90 190.92 L347.40 188.72 L347.90 186.60 L348.40 184.61 L348.90 182.62 L349.40 180.65 L349.90 178.82 L350.40 177.27 L350.90 175.95 L351.40 174.65 L351.90 173.50 L352.40 172.59 L352.90 172.05 L353.40 171.84 L353.90 171.67 L354.40 171.55 L354.90 171.50 L355.40 171.53 L355.90 171.63 L356.40 171.74 L356.90 171.80 L357.40 171.48 L357.90 170.39 L358.40 168.86 L358.90 167.29 L359.40 165.81 L359.90 164.15 L360.40 162.37 L360.90 160.59 L361.40 158.81 L361.90 156.64 L362.40 153.54 L362.90 148.26 L363.40 142.21 L363.90 136.97 L364.40 132.15 L364.90 127.33 L365.40 122.21 L365.90 116.46 L366.40 110.04 L366.90 103.19 L367.40 96.15 L367.90 89.17 L368.40 82.52 L368.90 76.16 L369.40 69.52 L369.90 63.38 L370.40 58.68 L370.90 55.48 L371.40 52.52 L371.90 49.97 L372.40 48.09 L372.90 47.10 L373.40 47.23 L373.90 48.56 L374.40 50.84 L374.90 53.83 L375.40 57.28 L375.90 62.19 L376.40 69.89 L376.90 78.39 L377.40 86.71 L377.90 95.81 L378.40 105.07 L378.90 113.82 L379.40 121.40 L379.90 127.96 L380.40 133.91 L380.90 139.49 L381.40 144.92 L381.90 150.43 L382.40 156.26 L382.90 162.69 L383.40 170.08 L383.90 177.54 L384.40 183.94 L384.90 188.76 L385.40 192.85 L385.90 196.51 L386.40 200.00 L386.90 203.59 L387.40 207.17 L387.90 210.49 L388.40 213.30 L388.90 215.34 L389.40 216.86 L389.90 218.10 L390.40 219.18 L390.90 220.20 L391.40 221.18 L391.90 222.09 L392.40 222.92 L392.90 223.66 L393.40 224.33 L393.90 224.96 L394.40 225.54 L394.90 226.06 L395.40 226.52 L395.90 226.92 L396.40 227.28 L396.90 227.62 L397.40 227.93 L397.90 228.22 L398.40 228.50 L398.90 228.75 L399.40 228.99 L399.90 229.23 L400.40 229.45 L400.90 229.66 L401.40 229.86 L401.90 230.05 L402.40 230.22 L402.90 230.37 L403.40 230.51 L403.90 230.65 L404.40 230.78 L404.90 230.90 L405.40 231.02 L405.90 231.13 L406.40 231.23 L406.90 231.32 L407.40 231.41 L407.90 231.49 L408.40 231.56 L408.90 231.63 L409.40 231.70 L409.90 231.77 L410.40 231.83 L410.90 231.90 L411.40 231.96 L411.90 232.01 L412.40 232.06 L412.90 232.11 L413.40 232.14 L413.90 232.17 L414.40 232.19 L414.90 232.20 L415.40 232.20 L415.90 232.20 L416.40 232.20 L416.90 232.21 L417.40 232.21 L417.90 232.21 L418.40 232.21 L418.90 232.21 L419.40 232.21 L419.90 232.22 L420.40 232.22 L420.90 232.22 L421.40 232.22 L421.90 232.22 L422.40 232.22 L422.90 232.23 L423.40 232.23 L423.90 232.23 L424.40 232.23 L424.90 232.23 L425.40 232.23 L425.90 232.23 L426.40 232.24 L426.90 232.24 L427.40 232.24 L427.90 232.24 L428.40 232.24 L428.90 232.24 L429.40 232.24 L429.90 232.24 L430.40 232.25 L430.90 232.25 L431.40 232.25 L431.90 232.25 L432.40 232.25 L432.90 232.25 L433.40 232.25 L433.90 232.25 L434.40 232.25 L434.90 232.26 L435.40 232.26 L435.90 232.26 L436.40 232.26 L436.90 232.26 L437.40 232.26 L437.90 232.26 L438.40 232.26 L438.90 232.26 L439.40 232.26 L439.90 232.26 L440.40 232.27 L440.90 232.27 L441.40 232.27 L441.90 232.27 L442.40 232.27 L442.90 232.27 L443.40 232.27 L443.90 232.27 L444.40 232.27 L444.90 232.27 L445.40 232.27 L445.90 232.27 L446.40 232.28 L446.90 232.28 L447.40 232.28 L447.90 232.28 L448.40 232.28 L448.90 232.28 L449.40 232.28 L449.90 232.28 L450.40 232.28 L450.90 232.28 L451.40 232.28 L451.90 232.28 L452.40 232.28 L452.90 232.28 L453.40 232.28 L453.90 232.28 L454.40 232.28 L454.90 232.29 L455.40 232.29 L455.90 232.29 L456.40 232.29 L456.90 232.29 L457.40 232.29 L457.90 232.29 L458.40 232.29 L458.90 232.29 L459.40 232.29 L459.90 232.29 L460.40 232.29 L460.90 232.29 L461.40 232.29 L461.90 232.29 L462.40 232.29 L462.90 232.29 L463.40 232.29 L463.90 232.29 L464.40 232.29 L464.90 232.29 L465.40 232.29 L465.90 232.29 L466.40 232.29 L466.90 232.29 L467.40 232.29 L467.90 232.29 L468.40 232.30 L468.90 232.30 L469.40 232.30 L469.90 232.30 L470.40 232.30 L470.90 232.30 L471.40 232.30 L471.90 232.30 L472.40 232.30 L472.90 232.30 L473.40 232.30 L473.90 232.30 L474.40 232.30 L474.90 232.30 L475.40 232.30 L475.90 232.30 L476.40 232.30 L476.90 232.30 L477.40 232.30 L477.90 232.30 L478.40 232.30 L478.90 232.30 L479.40 232.30 L479.90 232.30 L480.40 232.30 L480.90 232.30 L481.40 232.30 L481.90 232.30 L482.40 232.30 L482.90 232.30 L483.40 232.30 L483.90 232.30 L484.40 232.30 L484.90 232.30 L485.40 232.30 L485.90 232.30 L486.40 232.30 L486.90 232.30 L487.40 232.30 L487.90 232.30 L488.40 232.30 L488.90 232.30 L489.40 232.30 L489.90 232.30 L490.40 232.30 L490.90 232.30 L491.40 232.30 L491.90 232.30" fill="none" stroke="#CA1B2D" stroke-width="2.60" stroke-linejoin="round" stroke-linecap="round" />
<path d="M313.40 232.30 L313.90 232.30 L314.40 232.30 L314.90 232.29 L315.40 232.29 L315.90 232.28 L316.40 232.27 L316.90 232.26 L317.40 232.25 L317.90 232.24 L318.40 232.22 L318.90 232.21 L319.40 232.19 L319.90 232.18 L320.40 232.16 L320.90 232.14 L321.40 232.12 L321.90 232.10 L322.40 232.08 L322.90 232.06 L323.40 232.03 L323.90 232.00 L324.40 231.96 L324.90 231.92 L325.40 231.88 L325.90 231.83 L326.40 231.78 L326.90 231.73 L327.40 231.67 L327.90 231.61 L328.40 231.55 L328.90 231.48 L329.40 231.39 L329.90 231.30 L330.40 231.20 L330.90 231.10 L331.40 230.98 L331.90 230.87 L332.40 230.75 L332.90 230.62 L333.40 230.50 L333.90 230.37 L334.40 230.23 L334.90 230.08 L335.40 229.92 L335.90 229.74 L336.40 229.54 L336.90 229.32 L337.40 229.06 L337.90 228.76 L338.40 228.43 L338.90 228.07 L339.40 227.68 L339.90 227.24 L340.40 226.75 L340.90 226.21 L341.40 225.62 L341.90 224.98 L342.40 224.26 L342.90 223.46 L343.40 222.60 L343.90 221.69 L344.40 220.67 L344.90 219.49 L345.40 218.23 L345.90 217.00 L346.40 215.89 L346.90 214.96 L347.40 214.09 L347.90 213.29 L348.40 212.56 L348.90 211.92 L349.40 211.34 L349.90 210.78 L350.40 210.31 L350.90 209.95 L351.40 209.70 L351.90 209.48 L352.40 209.30 L352.90 209.21 L353.40 209.21 L353.90 209.29 L354.40 209.40 L354.90 209.53 L355.40 209.75 L355.90 210.00 L356.40 210.18 L356.90 210.15 L357.40 209.86 L357.90 209.41 L358.40 208.90 L358.90 208.36 L359.40 207.70 L359.90 206.92 L360.40 206.02 L360.90 205.00 L361.40 203.66 L361.90 201.99 L362.40 200.31 L362.90 198.89 L363.40 197.61 L363.90 196.13 L364.40 194.03 L364.90 190.73 L365.40 187.00 L365.90 183.28 L366.40 179.10 L366.90 173.95 L367.40 168.87 L367.90 164.73 L368.40 160.96 L368.90 157.67 L369.40 154.98 L369.90 152.58 L370.40 150.47 L370.90 148.77 L371.40 147.55 L371.90 146.48 L372.40 145.63 L372.90 145.21 L373.40 145.36 L373.90 145.93 L374.40 146.75 L374.90 147.70 L375.40 149.06 L375.90 150.90 L376.40 153.05 L376.90 155.57 L377.40 158.73 L377.90 162.27 L378.40 166.16 L378.90 170.56 L379.40 175.17 L379.90 179.77 L380.40 184.53 L380.90 189.27 L381.40 193.77 L381.90 198.11 L382.40 202.22 L382.90 206.23 L383.40 210.13 L383.90 213.00 L384.40 214.83 L384.90 216.31 L385.40 217.54 L385.90 218.66 L386.40 219.77 L386.90 220.94 L387.40 222.08 L387.90 223.13 L388.40 224.04 L388.90 224.79 L389.40 225.47 L389.90 226.08 L390.40 226.62 L390.90 227.11 L391.40 227.54 L391.90 227.94 L392.40 228.30 L392.90 228.63 L393.40 228.94 L393.90 229.24 L394.40 229.54 L394.90 229.82 L395.40 230.10 L395.90 230.35 L396.40 230.57 L396.90 230.77 L397.40 230.93 L397.90 231.09 L398.40 231.25 L398.90 231.38 L399.40 231.51 L399.90 231.62 L400.40 231.71 L400.90 231.79 L401.40 231.85 L401.90 231.90 L402.40 231.96 L402.90 232.01 L403.40 232.06 L403.90 232.10 L404.40 232.14 L404.90 232.18 L405.40 232.22 L405.90 232.24 L406.40 232.27 L406.90 232.28 L407.40 232.30 L407.90 232.30 L408.40 232.30 L408.90 232.30 L409.40 232.30 L409.90 232.30 L410.40 232.30 L410.90 232.30 L411.40 232.30 L411.90 232.30 L412.40 232.30 L412.90 232.30 L413.40 232.30 L413.90 232.30 L414.40 232.30 L414.90 232.30 L415.40 232.30 L415.90 232.30 L416.40 232.30 L416.90 232.30 L417.40 232.30 L417.90 232.30 L418.40 232.30 L418.90 232.30 L419.40 232.30 L419.90 232.30 L420.40 232.30 L420.90 232.30 L421.40 232.30 L421.90 232.30 L422.40 232.30 L422.90 232.30 L423.40 232.30 L423.90 232.30 L424.40 232.30 L424.90 232.30 L425.40 232.30 L425.90 232.30 L426.40 232.30 L426.90 232.30 L427.40 232.30 L427.90 232.30 L428.40 232.30 L428.90 232.30 L429.40 232.30 L429.90 232.30 L430.40 232.30 L430.90 232.30 L431.40 232.30 L431.90 232.30 L432.40 232.30 L432.90 232.30 L433.40 232.30 L433.90 232.30 L434.40 232.30 L434.90 232.30 L435.40 232.30 L435.90 232.30 L436.40 232.30 L436.90 232.30 L437.40 232.30 L437.90 232.30 L438.40 232.30 L438.90 232.30 L439.40 232.30 L439.90 232.30 L440.40 232.30 L440.90 232.30 L441.40 232.30 L441.90 232.30 L442.40 232.30 L442.90 232.30 L443.40 232.30 L443.90 232.30 L444.40 232.30 L444.90 232.30 L445.40 232.30 L445.90 232.30 L446.40 232.30 L446.90 232.30 L447.40 232.30 L447.90 232.30 L448.40 232.30 L448.90 232.30 L449.40 232.30 L449.90 232.30 L450.40 232.30 L450.90 232.30 L451.40 232.30 L451.90 232.30 L452.40 232.30 L452.90 232.30 L453.40 232.30 L453.90 232.30 L454.40 232.30 L454.90 232.30 L455.40 232.30 L455.90 232.30 L456.40 232.30 L456.90 232.30 L457.40 232.30 L457.90 232.30 L458.40 232.30 L458.90 232.30 L459.40 232.30 L459.90 232.30 L460.40 232.30 L460.90 232.30 L461.40 232.30 L461.90 232.30 L462.40 232.30 L462.90 232.30 L463.40 232.30 L463.90 232.30 L464.40 232.30 L464.90 232.30 L465.40 232.30 L465.90 232.30 L466.40 232.30 L466.90 232.30 L467.40 232.30 L467.90 232.30 L468.40 232.30 L468.90 232.30 L469.40 232.30 L469.90 232.30 L470.40 232.30 L470.90 232.30 L471.40 232.30 L471.90 232.30 L472.40 232.30 L472.90 232.30 L473.40 232.30 L473.90 232.30 L474.40 232.30 L474.90 232.30 L475.40 232.30 L475.90 232.30 L476.40 232.30 L476.90 232.30 L477.40 232.30 L477.90 232.30 L478.40 232.30 L478.90 232.30 L479.40 232.30 L479.90 232.30 L480.40 232.30 L480.90 232.30 L481.40 232.30 L481.90 232.30 L482.40 232.30 L482.90 232.30 L483.40 232.30 L483.90 232.30 L484.40 232.30 L484.90 232.30 L485.40 232.30 L485.90 232.30 L486.40 232.30 L486.90 232.30 L487.40 232.30 L487.90 232.30 L488.40 232.30 L488.90 232.30 L489.40 232.30 L489.90 232.30 L490.40 232.30 L490.90 232.30 L491.40 232.30 L491.90 232.30" fill="none" stroke="#22A05C" stroke-width="2.60" stroke-linejoin="round" stroke-linecap="round" />
<path d="M313.40 232.30 L313.90 232.30 L314.40 232.30 L314.90 232.30 L315.40 232.30 L315.90 232.29 L316.40 232.29 L316.90 232.29 L317.40 232.29 L317.90 232.28 L318.40 232.28 L318.90 232.28 L319.40 232.27 L319.90 232.27 L320.40 232.26 L320.90 232.26 L321.40 232.25 L321.90 232.24 L322.40 232.24 L322.90 232.23 L323.40 232.22 L323.90 232.22 L324.40 232.21 L324.90 232.20 L325.40 232.19 L325.90 232.18 L326.40 232.16 L326.90 232.14 L327.40 232.12 L327.90 232.10 L328.40 232.07 L328.90 232.04 L329.40 232.00 L329.90 231.97 L330.40 231.93 L330.90 231.89 L331.40 231.85 L331.90 231.81 L332.40 231.76 L332.90 231.71 L333.40 231.65 L333.90 231.58 L334.40 231.50 L334.90 231.42 L335.40 231.33 L335.90 231.24 L336.40 231.13 L336.90 231.02 L337.40 230.90 L337.90 230.76 L338.40 230.60 L338.90 230.42 L339.40 230.22 L339.90 230.01 L340.40 229.78 L340.90 229.55 L341.40 229.29 L341.90 228.99 L342.40 228.66 L342.90 228.31 L343.40 227.95 L343.90 227.57 L344.40 227.19 L344.90 226.78 L345.40 226.35 L345.90 225.92 L346.40 225.49 L346.90 225.08 L347.40 224.68 L347.90 224.28 L348.40 223.88 L348.90 223.50 L349.40 223.15 L349.90 222.85 L350.40 222.59 L350.90 222.32 L351.40 222.07 L351.90 221.89 L352.40 221.80 L352.90 221.80 L353.40 221.80 L353.90 221.80 L354.40 221.80 L354.90 221.85 L355.40 222.00 L355.90 222.20 L356.40 222.35 L356.90 222.40 L357.40 222.31 L357.90 222.12 L358.40 221.85 L358.90 221.56 L359.40 221.21 L359.90 220.71 L360.40 220.11 L360.90 219.44 L361.40 218.69 L361.90 217.78 L362.40 216.78 L362.90 215.72 L363.40 214.61 L363.90 213.41 L364.40 212.15 L364.90 210.82 L365.40 209.43 L365.90 207.86 L366.40 206.25 L366.90 204.77 L367.40 203.53 L367.90 202.46 L368.40 201.41 L368.90 200.25 L369.40 198.82 L369.90 197.12 L370.40 195.51 L370.90 194.29 L371.40 193.25 L371.90 192.29 L372.40 191.56 L372.90 191.21 L373.40 191.26 L373.90 191.46 L374.40 191.79 L374.90 192.21 L375.40 192.89 L375.90 194.11 L376.40 195.67 L376.90 197.61 L377.40 200.20 L377.90 203.00 L378.40 206.09 L378.90 209.32 L379.40 211.99 L379.90 214.35 L380.40 216.45 L380.90 218.20 L381.40 219.58 L381.90 220.74 L382.40 221.76 L382.90 222.73 L383.40 223.70 L383.90 224.69 L384.40 225.66 L384.90 226.56 L385.40 227.36 L385.90 228.06 L386.40 228.73 L386.90 229.34 L387.40 229.85 L387.90 230.24 L388.40 230.51 L388.90 230.76 L389.40 230.98 L389.90 231.18 L390.40 231.34 L390.90 231.49 L391.40 231.60 L391.90 231.69 L392.40 231.75 L392.90 231.82 L393.40 231.88 L393.90 231.93 L394.40 231.99 L394.90 232.04 L395.40 232.08 L395.90 232.13 L396.40 232.16 L396.90 232.20 L397.40 232.23 L397.90 232.25 L398.40 232.27 L398.90 232.29 L399.40 232.30 L399.90 232.30 L400.40 232.30 L400.90 232.30 L401.40 232.30 L401.90 232.30 L402.40 232.30 L402.90 232.30 L403.40 232.30 L403.90 232.30 L404.40 232.30 L404.90 232.30 L405.40 232.30 L405.90 232.30 L406.40 232.30 L406.90 232.30 L407.40 232.30 L407.90 232.30 L408.40 232.30 L408.90 232.30 L409.40 232.30 L409.90 232.30 L410.40 232.30 L410.90 232.30 L411.40 232.30 L411.90 232.30 L412.40 232.30 L412.90 232.30 L413.40 232.30 L413.90 232.30 L414.40 232.30 L414.90 232.30 L415.40 232.30 L415.90 232.30 L416.40 232.30 L416.90 232.30 L417.40 232.30 L417.90 232.30 L418.40 232.30 L418.90 232.30 L419.40 232.30 L419.90 232.30 L420.40 232.30 L420.90 232.30 L421.40 232.30 L421.90 232.30 L422.40 232.30 L422.90 232.30 L423.40 232.30 L423.90 232.30 L424.40 232.30 L424.90 232.30 L425.40 232.30 L425.90 232.30 L426.40 232.30 L426.90 232.30 L427.40 232.30 L427.90 232.30 L428.40 232.30 L428.90 232.30 L429.40 232.30 L429.90 232.30 L430.40 232.30 L430.90 232.30 L431.40 232.30 L431.90 232.30 L432.40 232.30 L432.90 232.30 L433.40 232.30 L433.90 232.30 L434.40 232.30 L434.90 232.30 L435.40 232.30 L435.90 232.30 L436.40 232.30 L436.90 232.30 L437.40 232.30 L437.90 232.30 L438.40 232.30 L438.90 232.30 L439.40 232.30 L439.90 232.30 L440.40 232.30 L440.90 232.30 L441.40 232.30 L441.90 232.30 L442.40 232.30 L442.90 232.30 L443.40 232.30 L443.90 232.30 L444.40 232.30 L444.90 232.30 L445.40 232.30 L445.90 232.30 L446.40 232.30 L446.90 232.30 L447.40 232.30 L447.90 232.30 L448.40 232.30 L448.90 232.30 L449.40 232.30 L449.90 232.30 L450.40 232.30 L450.90 232.30 L451.40 232.30 L451.90 232.30 L452.40 232.30 L452.90 232.30 L453.40 232.30 L453.90 232.30 L454.40 232.30 L454.90 232.30 L455.40 232.30 L455.90 232.30 L456.40 232.30 L456.90 232.30 L457.40 232.30 L457.90 232.30 L458.40 232.30 L458.90 232.30 L459.40 232.30 L459.90 232.30 L460.40 232.30 L460.90 232.30 L461.40 232.30 L461.90 232.30 L462.40 232.30 L462.90 232.30 L463.40 232.30 L463.90 232.30 L464.40 232.30 L464.90 232.30 L465.40 232.30 L465.90 232.30 L466.40 232.30 L466.90 232.30 L467.40 232.30 L467.90 232.30 L468.40 232.30 L468.90 232.30 L469.40 232.30 L469.90 232.30 L470.40 232.30 L470.90 232.30 L471.40 232.30 L471.90 232.30 L472.40 232.30 L472.90 232.30 L473.40 232.30 L473.90 232.30 L474.40 232.30 L474.90 232.30 L475.40 232.30 L475.90 232.30 L476.40 232.30 L476.90 232.30 L477.40 232.30 L477.90 232.30 L478.40 232.30 L478.90 232.30 L479.40 232.30 L479.90 232.30 L480.40 232.30 L480.90 232.30 L481.40 232.30 L481.90 232.30 L482.40 232.30 L482.90 232.30 L483.40 232.30 L483.90 232.30 L484.40 232.30 L484.90 232.30 L485.40 232.30 L485.90 232.30 L486.40 232.30 L486.90 232.30 L487.40 232.30 L487.90 232.30 L488.40 232.30 L488.90 232.30 L489.40 232.30 L489.90 232.30 L490.40 232.30 L490.90 232.30 L491.40 232.30 L491.90 232.30" fill="none" stroke="#2AA8D6" stroke-width="2.60" stroke-linejoin="round" stroke-linecap="round" />
<path d="M313.40 232.30 L313.90 232.30 L314.40 232.30 L314.90 232.30 L315.40 232.30 L315.90 232.30 L316.40 232.30 L316.90 232.30 L317.40 232.29 L317.90 232.29 L318.40 232.29 L318.90 232.29 L319.40 232.29 L319.90 232.28 L320.40 232.28 L320.90 232.28 L321.40 232.28 L321.90 232.27 L322.40 232.27 L322.90 232.27 L323.40 232.26 L323.90 232.26 L324.40 232.26 L324.90 232.25 L325.40 232.25 L325.90 232.24 L326.40 232.24 L326.90 232.23 L327.40 232.23 L327.90 232.22 L328.40 232.22 L328.90 232.21 L329.40 232.21 L329.90 232.20 L330.40 232.19 L330.90 232.18 L331.40 232.17 L331.90 232.16 L332.40 232.14 L332.90 232.12 L333.40 232.10 L333.90 232.07 L334.40 232.05 L334.90 232.02 L335.40 231.99 L335.90 231.95 L336.40 231.92 L336.90 231.88 L337.40 231.85 L337.90 231.81 L338.40 231.77 L338.90 231.71 L339.40 231.65 L339.90 231.58 L340.40 231.51 L340.90 231.42 L341.40 231.33 L341.90 231.24 L342.40 231.14 L342.90 231.04 L343.40 230.93 L343.90 230.82 L344.40 230.71 L344.90 230.57 L345.40 230.43 L345.90 230.28 L346.40 230.11 L346.90 229.95 L347.40 229.79 L347.90 229.63 L348.40 229.48 L348.90 229.31 L349.40 229.15 L349.90 228.98 L350.40 228.81 L350.90 228.65 L351.40 228.50 L351.90 228.36 L352.40 228.22 L352.90 228.10 L353.40 227.98 L353.90 227.86 L354.40 227.75 L354.90 227.66 L355.40 227.61 L355.90 227.58 L356.40 227.56 L356.90 227.55 L357.40 227.53 L357.90 227.51 L358.40 227.45 L358.90 227.35 L359.40 227.20 L359.90 227.01 L360.40 226.80 L360.90 226.50 L361.40 226.08 L361.90 225.57 L362.40 225.03 L362.90 224.49 L363.40 223.95 L363.90 223.36 L364.40 222.74 L364.90 222.08 L365.40 221.35 L365.90 220.53 L366.40 219.67 L366.90 218.83 L367.40 217.99 L367.90 217.15 L368.40 216.40 L368.90 215.72 L369.40 215.07 L369.90 214.53 L370.40 214.13 L370.90 213.81 L371.40 213.52 L371.90 213.30 L372.40 213.20 L372.90 213.22 L373.40 213.28 L373.90 213.39 L374.40 213.54 L374.90 213.93 L375.40 214.57 L375.90 215.34 L376.40 216.25 L376.90 217.44 L377.40 218.74 L377.90 220.11 L378.40 221.60 L378.90 223.04 L379.40 224.32 L379.90 225.54 L380.40 226.61 L380.90 227.53 L381.40 228.37 L381.90 229.07 L382.40 229.59 L382.90 229.99 L383.40 230.34 L383.90 230.63 L384.40 230.88 L384.90 231.07 L385.40 231.22 L385.90 231.36 L386.40 231.48 L386.90 231.59 L387.40 231.68 L387.90 231.77 L388.40 231.83 L388.90 231.89 L389.40 231.94 L389.90 231.98 L390.40 232.03 L390.90 232.07 L391.40 232.11 L391.90 232.14 L392.40 232.18 L392.90 232.21 L393.40 232.23 L393.90 232.25 L394.40 232.27 L394.90 232.29 L395.40 232.30 L395.90 232.30 L396.40 232.30 L396.90 232.30 L397.40 232.30 L397.90 232.30 L398.40 232.30 L398.90 232.30 L399.40 232.30 L399.90 232.30 L400.40 232.30 L400.90 232.30 L401.40 232.30 L401.90 232.30 L402.40 232.30 L402.90 232.30 L403.40 232.30 L403.90 232.30 L404.40 232.30 L404.90 232.30 L405.40 232.30 L405.90 232.30 L406.40 232.30 L406.90 232.30 L407.40 232.30 L407.90 232.30 L408.40 232.30 L408.90 232.30 L409.40 232.30 L409.90 232.30 L410.40 232.30 L410.90 232.30 L411.40 232.30 L411.90 232.30 L412.40 232.30 L412.90 232.30 L413.40 232.30 L413.90 232.30 L414.40 232.30 L414.90 232.30 L415.40 232.30 L415.90 232.30 L416.40 232.30 L416.90 232.30 L417.40 232.30 L417.90 232.30 L418.40 232.30 L418.90 232.30 L419.40 232.30 L419.90 232.30 L420.40 232.30 L420.90 232.30 L421.40 232.30 L421.90 232.30 L422.40 232.30 L422.90 232.30 L423.40 232.30 L423.90 232.30 L424.40 232.30 L424.90 232.30 L425.40 232.30 L425.90 232.30 L426.40 232.30 L426.90 232.30 L427.40 232.30 L427.90 232.30 L428.40 232.30 L428.90 232.30 L429.40 232.30 L429.90 232.30 L430.40 232.30 L430.90 232.30 L431.40 232.30 L431.90 232.30 L432.40 232.30 L432.90 232.30 L433.40 232.30 L433.90 232.30 L434.40 232.30 L434.90 232.30 L435.40 232.30 L435.90 232.30 L436.40 232.30 L436.90 232.30 L437.40 232.30 L437.90 232.30 L438.40 232.30 L438.90 232.30 L439.40 232.30 L439.90 232.30 L440.40 232.30 L440.90 232.30 L441.40 232.30 L441.90 232.30 L442.40 232.30 L442.90 232.30 L443.40 232.30 L443.90 232.30 L444.40 232.30 L444.90 232.30 L445.40 232.30 L445.90 232.30 L446.40 232.30 L446.90 232.30 L447.40 232.30 L447.90 232.30 L448.40 232.30 L448.90 232.30 L449.40 232.30 L449.90 232.30 L450.40 232.30 L450.90 232.30 L451.40 232.30 L451.90 232.30 L452.40 232.30 L452.90 232.30 L453.40 232.30 L453.90 232.30 L454.40 232.30 L454.90 232.30 L455.40 232.30 L455.90 232.30 L456.40 232.30 L456.90 232.30 L457.40 232.30 L457.90 232.30 L458.40 232.30 L458.90 232.30 L459.40 232.30 L459.90 232.30 L460.40 232.30 L460.90 232.30 L461.40 232.30 L461.90 232.30 L462.40 232.30 L462.90 232.30 L463.40 232.30 L463.90 232.30 L464.40 232.30 L464.90 232.30 L465.40 232.30 L465.90 232.30 L466.40 232.30 L466.90 232.30 L467.40 232.30 L467.90 232.30 L468.40 232.30 L468.90 232.30 L469.40 232.30 L469.90 232.30 L470.40 232.30 L470.90 232.30 L471.40 232.30 L471.90 232.30 L472.40 232.30 L472.90 232.30 L473.40 232.30 L473.90 232.30 L474.40 232.30 L474.90 232.30 L475.40 232.30 L475.90 232.30 L476.40 232.30 L476.90 232.30 L477.40 232.30 L477.90 232.30 L478.40 232.30 L478.90 232.30 L479.40 232.30 L479.90 232.30 L480.40 232.30 L480.90 232.30 L481.40 232.30 L481.90 232.30 L482.40 232.30 L482.90 232.30 L483.40 232.30 L483.90 232.30 L484.40 232.30 L484.90 232.30 L485.40 232.30 L485.90 232.30 L486.40 232.30 L486.90 232.30 L487.40 232.30 L487.90 232.30 L488.40 232.30 L488.90 232.30 L489.40 232.30 L489.90 232.30 L490.40 232.30 L490.90 232.30 L491.40 232.30 L491.90 232.30" fill="none" stroke="#6E3A96" stroke-width="2.60" stroke-linejoin="round" stroke-linecap="round" />
<polyline points="313.6,231.7 315.1,232.0 316.6,231.2 318.1,232.2 319.6,231.4 321.1,231.7 322.6,232.2 324.1,231.4 325.6,232.2 327.1,231.5 328.6,232.2 330.1,232.1 331.6,231.5 333.1,230.8 334.6,232.1 336.1,231.9 337.6,231.2 339.1,230.6 340.6,231.2 342.1,231.5 343.6,230.4 345.1,231.9 346.6,230.3 348.1,231.1 349.6,231.1 351.1,230.9 352.6,230.4 354.1,229.4 355.6,230.5 357.1,229.9 358.6,230.0 360.1,230.7 361.6,230.6 363.1,231.6 364.6,231.6 366.1,230.5 367.6,228.3 369.1,227.7 370.6,227.5 372.1,227.0 373.6,227.2 375.1,227.5 376.6,227.0 378.1,228.1 379.6,230.4 381.1,230.9 382.6,231.3 384.1,230.8 385.6,231.0 387.1,231.8 388.6,230.6 390.1,232.1 391.6,231.6 393.1,231.0 394.6,232.0 396.1,231.4 397.6,232.2 399.1,231.1 400.6,230.9 402.1,231.3 403.6,230.8 405.1,231.7 406.6,231.1 408.1,231.3 409.6,231.3 411.1,231.5 412.6,230.8 414.1,230.6 415.6,231.5 417.1,231.1 418.6,232.2 420.1,231.1 421.6,231.2 423.1,230.5 424.6,230.8 426.1,231.8 427.6,231.6 429.1,231.1 430.6,232.3 432.1,231.5 433.6,232.0 435.1,232.1 436.6,232.2 438.1,230.9 439.6,232.1 441.1,231.9 442.6,231.6 444.1,230.8 445.6,232.2 447.1,231.5 448.6,231.3 450.1,230.7 451.6,230.9 453.1,230.8 454.6,231.8 456.1,231.6 457.6,231.7 459.1,230.7 460.6,230.6 462.1,232.0 463.6,232.0 465.1,231.9 466.6,231.9 468.1,231.4 469.6,231.3 471.1,231.8 472.6,232.3 474.1,231.6 475.6,231.6 477.1,231.3 478.6,230.6 480.1,231.1 481.6,231.4 483.1,231.2 484.6,231.1 486.1,232.2 487.6,230.7 489.1,230.9 490.6,230.8" fill="none" stroke="#111" stroke-width="2.4" stroke-linejoin="round"/>
<path d="M313.3 42.5 V232.3 M313 232.3 H492.9" stroke="#000" stroke-width="2.6" fill="none" stroke-linecap="round"/>
<path d="M310 232.30 H314" stroke="#000" stroke-width="2.2"/>
<text x="305.00" y="236.50" font-family="'Liberation Serif', serif" font-size="12.00" font-weight="bold" text-anchor="end" fill="#1a1a1a" >0.0</text>
<path d="M310 195.46 H314" stroke="#000" stroke-width="2.2"/>
<text x="305.00" y="199.66" font-family="'Liberation Serif', serif" font-size="12.00" font-weight="bold" text-anchor="end" fill="#1a1a1a" >0.5</text>
<path d="M310 158.62 H314" stroke="#000" stroke-width="2.2"/>
<text x="305.00" y="162.82" font-family="'Liberation Serif', serif" font-size="12.00" font-weight="bold" text-anchor="end" fill="#1a1a1a" >1.0</text>
<path d="M310 121.78 H314" stroke="#000" stroke-width="2.2"/>
<text x="305.00" y="125.98" font-family="'Liberation Serif', serif" font-size="12.00" font-weight="bold" text-anchor="end" fill="#1a1a1a" >1.5</text>
<path d="M310 84.94 H314" stroke="#000" stroke-width="2.2"/>
<text x="305.00" y="89.14" font-family="'Liberation Serif', serif" font-size="12.00" font-weight="bold" text-anchor="end" fill="#1a1a1a" >2.0</text>
<path d="M310 48.10 H314" stroke="#000" stroke-width="2.2"/>
<text x="305.00" y="52.30" font-family="'Liberation Serif', serif" font-size="12.00" font-weight="bold" text-anchor="end" fill="#1a1a1a" >2.5</text>
<path d="M313.40 232 V235.4" stroke="#000" stroke-width="2.2"/>
<text x="314.60" y="250.20" font-family="'Liberation Serif', serif" font-size="12.00" font-weight="bold" text-anchor="middle" fill="#1a1a1a" letter-spacing="0.35">350</text>
<path d="M349.30 232 V235.4" stroke="#000" stroke-width="2.2"/>
<text x="350.50" y="250.20" font-family="'Liberation Serif', serif" font-size="12.00" font-weight="bold" text-anchor="middle" fill="#1a1a1a" letter-spacing="0.35">370</text>
<path d="M385.20 232 V235.4" stroke="#000" stroke-width="2.2"/>
<text x="386.40" y="250.20" font-family="'Liberation Serif', serif" font-size="12.00" font-weight="bold" text-anchor="middle" fill="#1a1a1a" letter-spacing="0.35">390</text>
<path d="M421.10 232 V235.4" stroke="#000" stroke-width="2.2"/>
<text x="422.30" y="250.20" font-family="'Liberation Serif', serif" font-size="12.00" font-weight="bold" text-anchor="middle" fill="#1a1a1a" letter-spacing="0.35">410</text>
<path d="M457.00 232 V235.4" stroke="#000" stroke-width="2.2"/>
<text x="458.20" y="250.20" font-family="'Liberation Serif', serif" font-size="12.00" font-weight="bold" text-anchor="middle" fill="#1a1a1a" letter-spacing="0.35">430</text>
<path d="M492.90 232 V235.4" stroke="#000" stroke-width="2.2"/>
<text x="494.10" y="250.20" font-family="'Liberation Serif', serif" font-size="12.00" font-weight="bold" text-anchor="middle" fill="#1a1a1a" letter-spacing="0.35">450</text>
<text x="403.00" y="269.00" font-family="'Liberation Serif', serif" font-size="12.00" font-weight="bold" text-anchor="middle" fill="#1a1a1a" >Wavelength (nm)</text>
<text transform="translate(280.2 125.2) rotate(-90)" font-family="'Liberation Serif', serif" font-size="12" font-weight="bold" text-anchor="middle" fill="#1a1a1a">Intensity (a.u.)</text>
<text transform="translate(390.6 17.3) scale(1.013 1)" font-family="'Liberation Serif', serif" font-size="14" font-weight="bold" text-anchor="middle" fill="#1a1a1a" stroke="#1a1a1a" stroke-width="0.15">Pyrene / n-hexane</text>
<text x="494.70" y="15.60" font-family="'Liberation Sans', sans-serif" font-size="12.00" font-weight="bold" text-anchor="middle" fill="#1a1a1a" >(b)</text>
<path d="M399.2 73.60 H431.6" stroke="#A81C30" stroke-width="2.4"/>
<text x="435.3" y="77.60" font-family="'Liberation Serif', serif" font-size="12" font-weight="bold" fill="#1a1a1a">10<tspan font-size="6" dy="-3.4" dx="0.3">−5</tspan><tspan dy="3.4" dx="1.6">M</tspan><tspan dx="0.8" letter-spacing="0.4"></tspan></text>
<path d="M399.2 101.10 H431.6" stroke="#2E9162" stroke-width="2.4"/>
<text x="435.3" y="105.10" font-family="'Liberation Serif', serif" font-size="12" font-weight="bold" fill="#1a1a1a">10<tspan font-size="6" dy="-3.4" dx="0.3">−6</tspan><tspan dy="3.4" dx="1.6">M</tspan><tspan dx="0.8" letter-spacing="0.4">(x3)</tspan></text>
<path d="M399.2 128.60 H431.6" stroke="#3A9AC2" stroke-width="2.4"/>
<text x="435.3" y="132.60" font-family="'Liberation Serif', serif" font-size="12" font-weight="bold" fill="#1a1a1a">10<tspan font-size="6" dy="-3.4" dx="0.3">−7</tspan><tspan dy="3.4" dx="1.6">M</tspan><tspan dx="0.8" letter-spacing="0.4">(x15)</tspan></text>
<path d="M399.2 156.10 H431.6" stroke="#5C3D72" stroke-width="2.4"/>
<text x="435.3" y="160.10" font-family="'Liberation Serif', serif" font-size="12" font-weight="bold" fill="#1a1a1a">10<tspan font-size="6" dy="-3.4" dx="0.3">−8</tspan><tspan dy="3.4" dx="1.6">M</tspan><tspan dx="0.8" letter-spacing="0.4">(x75)</tspan></text>
<path d="M399.2 183.60 H431.6" stroke="#111" stroke-width="2.4"/>
<text x="435.3" y="187.60" font-family="'Liberation Serif', serif" font-size="12" font-weight="bold" fill="#1a1a1a">10<tspan font-size="6" dy="-3.4" dx="0.3">−9</tspan><tspan dy="3.4" dx="1.6">M</tspan><tspan dx="0.8" letter-spacing="0.4">(x200)</tspan></text>
</g>
<g id="pc">
<path d="M563.10 229.60 L563.60 229.60 L564.10 229.59 L564.60 229.59 L565.10 229.58 L565.60 229.57 L566.10 229.56 L566.60 229.54 L567.10 229.53 L567.60 229.51 L568.10 229.50 L568.60 229.47 L569.10 229.44 L569.60 229.40 L570.10 229.35 L570.60 229.29 L571.10 229.23 L571.60 229.16 L572.10 229.08 L572.60 228.99 L573.10 228.87 L573.60 228.74 L574.10 228.59 L574.60 228.43 L575.10 228.27 L575.60 228.09 L576.10 227.90 L576.60 227.70 L577.10 227.49 L577.60 227.26 L578.10 227.03 L578.60 226.78 L579.10 226.52 L579.60 226.24 L580.10 225.95 L580.60 225.63 L581.10 225.29 L581.60 224.93 L582.10 224.54 L582.60 224.14 L583.10 223.71 L583.60 223.25 L584.10 222.74 L584.60 222.20 L585.10 221.64 L585.60 221.06 L586.10 220.48 L586.60 219.91 L587.10 219.32 L587.60 218.70 L588.10 218.04 L588.60 217.30 L589.10 216.52 L589.60 215.64 L590.10 214.58 L590.60 213.17 L591.10 211.09 L591.60 208.42 L592.10 205.33 L592.60 202.02 L593.10 198.66 L593.60 195.16 L594.10 191.13 L594.60 186.15 L595.10 178.47 L595.60 170.35 L596.10 162.91 L596.60 155.70 L597.10 148.58 L597.60 141.57 L598.10 134.69 L598.60 127.88 L599.10 121.06 L599.60 114.19 L600.10 107.15 L600.60 99.78 L601.10 92.36 L601.60 85.24 L602.10 78.75 L602.60 72.49 L603.10 66.51 L603.60 61.30 L604.10 57.28 L604.60 53.68 L605.10 51.26 L605.60 51.57 L606.10 54.35 L606.60 58.00 L607.10 62.33 L607.60 67.84 L608.10 73.94 L608.60 80.00 L609.10 85.89 L609.60 91.91 L610.10 98.13 L610.60 104.60 L611.10 111.39 L611.60 118.79 L612.10 126.67 L612.60 134.71 L613.10 142.59 L613.60 150.00 L614.10 157.27 L614.60 164.48 L615.10 170.91 L615.60 175.85 L616.10 179.62 L616.60 182.79 L617.10 185.68 L617.60 188.60 L618.10 191.56 L618.60 194.41 L619.10 197.07 L619.60 199.45 L620.10 201.66 L620.60 203.69 L621.10 205.42 L621.60 206.79 L622.10 207.98 L622.60 209.02 L623.10 209.90 L623.60 210.63 L624.10 211.26 L624.60 211.80 L625.10 212.29 L625.60 212.74 L626.10 213.16 L626.60 213.58 L627.10 213.98 L627.60 214.33 L628.10 214.68 L628.60 215.02 L629.10 215.39 L629.60 215.78 L630.10 216.25 L630.60 216.75 L631.10 217.25 L631.60 217.70 L632.10 218.07 L632.60 218.37 L633.10 218.64 L633.60 218.89 L634.10 219.12 L634.60 219.35 L635.10 219.57 L635.60 219.80 L636.10 220.05 L636.60 220.30 L637.10 220.56 L637.60 220.81 L638.10 221.07 L638.60 221.32 L639.10 221.58 L639.60 221.84 L640.10 222.09 L640.60 222.35 L641.10 222.61 L641.60 222.87 L642.10 223.13 L642.60 223.39 L643.10 223.65 L643.60 223.91 L644.10 224.19 L644.60 224.48 L645.10 224.77 L645.60 225.07 L646.10 225.36 L646.60 225.66 L647.10 225.94 L647.60 226.22 L648.10 226.48 L648.60 226.73 L649.10 226.95 L649.60 227.16 L650.10 227.33 L650.60 227.50 L651.10 227.66 L651.60 227.81 L652.10 227.96 L652.60 228.10 L653.10 228.24 L653.60 228.36 L654.10 228.47 L654.60 228.58 L655.10 228.67 L655.60 228.75 L656.10 228.81 L656.60 228.87 L657.10 228.93 L657.60 228.99 L658.10 229.05 L658.60 229.10 L659.10 229.15 L659.60 229.20 L660.10 229.25 L660.60 229.29 L661.10 229.33 L661.60 229.37 L662.10 229.40 L662.60 229.43 L663.10 229.45 L663.60 229.47 L664.10 229.49 L664.60 229.50 L665.10 229.50 L665.60 229.50 L666.10 229.51 L666.60 229.51 L667.10 229.51 L667.60 229.52 L668.10 229.52 L668.60 229.52 L669.10 229.53 L669.60 229.53 L670.10 229.53 L670.60 229.54 L671.10 229.54 L671.60 229.54 L672.10 229.54 L672.60 229.55 L673.10 229.55 L673.60 229.55 L674.10 229.56 L674.60 229.56 L675.10 229.56 L675.60 229.56 L676.10 229.57 L676.60 229.57 L677.10 229.57 L677.60 229.57 L678.10 229.58 L678.60 229.58 L679.10 229.58 L679.60 229.58 L680.10 229.59 L680.60 229.59 L681.10 229.59 L681.60 229.59 L682.10 229.59 L682.60 229.60 L683.10 229.60 L683.60 229.60 L684.10 229.60 L684.60 229.61 L685.10 229.61 L685.60 229.61 L686.10 229.61 L686.60 229.61 L687.10 229.62 L687.60 229.62 L688.10 229.62 L688.60 229.62 L689.10 229.62 L689.60 229.62 L690.10 229.63 L690.60 229.63 L691.10 229.63 L691.60 229.63 L692.10 229.63 L692.60 229.63 L693.10 229.64 L693.60 229.64 L694.10 229.64 L694.60 229.64 L695.10 229.64 L695.60 229.64 L696.10 229.65 L696.60 229.65 L697.10 229.65 L697.60 229.65 L698.10 229.65 L698.60 229.65 L699.10 229.65 L699.60 229.66 L700.10 229.66 L700.60 229.66 L701.10 229.66 L701.60 229.66 L702.10 229.66 L702.60 229.66 L703.10 229.66 L703.60 229.66 L704.10 229.67 L704.60 229.67 L705.10 229.67 L705.60 229.67 L706.10 229.67 L706.60 229.67 L707.10 229.67 L707.60 229.67 L708.10 229.67 L708.60 229.67 L709.10 229.68 L709.60 229.68 L710.10 229.68 L710.60 229.68 L711.10 229.68 L711.60 229.68 L712.10 229.68 L712.60 229.68 L713.10 229.68 L713.60 229.68 L714.10 229.68 L714.60 229.68 L715.10 229.68 L715.60 229.69 L716.10 229.69 L716.60 229.69 L717.10 229.69 L717.60 229.69 L718.10 229.69 L718.60 229.69 L719.10 229.69 L719.60 229.69 L720.10 229.69 L720.60 229.69 L721.10 229.69 L721.60 229.69 L722.10 229.69 L722.60 229.69 L723.10 229.69 L723.60 229.69 L724.10 229.69 L724.60 229.69 L725.10 229.69 L725.60 229.70 L726.10 229.70 L726.60 229.70 L727.10 229.70 L727.60 229.70 L728.10 229.70 L728.60 229.70 L729.10 229.70 L729.60 229.70 L730.10 229.70 L730.60 229.70 L731.10 229.70 L731.60 229.70 L732.10 229.70 L732.60 229.70 L733.10 229.70 L733.60 229.70 L734.10 229.70 L734.60 229.70 L735.10 229.70 L735.60 229.70 L736.10 229.70 L736.60 229.70 L737.10 229.70 L737.60 229.70 L738.10 229.70 L738.60 229.70 L739.10 229.70 L739.60 229.70 L740.10 229.70 L740.60 229.70 L741.10 229.70 L741.60 229.70" fill="none" stroke="#CA1B2D" stroke-width="2.60" stroke-linejoin="round" stroke-linecap="round" />
<path d="M563.10 229.70 L563.60 229.70 L564.10 229.70 L564.60 229.70 L565.10 229.70 L565.60 229.70 L566.10 229.69 L566.60 229.69 L567.10 229.69 L567.60 229.69 L568.10 229.68 L568.60 229.68 L569.10 229.68 L569.60 229.67 L570.10 229.67 L570.60 229.66 L571.10 229.66 L571.60 229.65 L572.10 229.64 L572.60 229.64 L573.10 229.63 L573.60 229.62 L574.10 229.61 L574.60 229.61 L575.10 229.60 L575.60 229.58 L576.10 229.56 L576.60 229.54 L577.10 229.50 L577.60 229.46 L578.10 229.42 L578.60 229.37 L579.10 229.31 L579.60 229.25 L580.10 229.19 L580.60 229.10 L581.10 228.99 L581.60 228.86 L582.10 228.71 L582.60 228.54 L583.10 228.36 L583.60 228.16 L584.10 227.96 L584.60 227.73 L585.10 227.47 L585.60 227.18 L586.10 226.86 L586.60 226.50 L587.10 226.12 L587.60 225.71 L588.10 225.24 L588.60 224.69 L589.10 224.07 L589.60 223.41 L590.10 222.72 L590.60 222.01 L591.10 221.25 L591.60 220.39 L592.10 219.41 L592.60 218.25 L593.10 216.73 L593.60 214.85 L594.10 212.72 L594.60 210.46 L595.10 207.98 L595.60 205.10 L596.10 202.16 L596.60 199.51 L597.10 197.19 L597.60 195.04 L598.10 192.86 L598.60 190.51 L599.10 187.81 L599.60 184.76 L600.10 181.53 L600.60 178.24 L601.10 175.04 L601.60 172.09 L602.10 169.51 L602.60 166.98 L603.10 164.65 L603.60 162.92 L604.10 162.01 L604.60 161.35 L605.10 161.01 L605.60 161.17 L606.10 161.73 L606.60 162.50 L607.10 163.65 L607.60 165.35 L608.10 167.40 L608.60 169.57 L609.10 171.76 L609.60 174.12 L610.10 176.66 L610.60 179.37 L611.10 182.27 L611.60 185.36 L612.10 188.64 L612.60 192.26 L613.10 196.54 L613.60 200.87 L614.10 205.52 L614.60 208.33 L615.10 210.00 L615.60 211.26 L616.10 212.30 L616.60 213.26 L617.10 214.10 L617.60 214.85 L618.10 215.51 L618.60 216.12 L619.10 216.67 L619.60 217.19 L620.10 217.66 L620.60 218.10 L621.10 218.50 L621.60 218.87 L622.10 219.22 L622.60 219.55 L623.10 219.86 L623.60 220.15 L624.10 220.44 L624.60 220.71 L625.10 220.97 L625.60 221.22 L626.10 221.47 L626.60 221.71 L627.10 221.95 L627.60 222.18 L628.10 222.41 L628.60 222.63 L629.10 222.84 L629.60 223.05 L630.10 223.26 L630.60 223.46 L631.10 223.66 L631.60 223.86 L632.10 224.05 L632.60 224.24 L633.10 224.43 L633.60 224.61 L634.10 224.80 L634.60 224.98 L635.10 225.17 L635.60 225.35 L636.10 225.54 L636.60 225.73 L637.10 225.92 L637.60 226.13 L638.10 226.33 L638.60 226.54 L639.10 226.74 L639.60 226.95 L640.10 227.15 L640.60 227.34 L641.10 227.53 L641.60 227.71 L642.10 227.88 L642.60 228.04 L643.10 228.19 L643.60 228.32 L644.10 228.44 L644.60 228.54 L645.10 228.61 L645.60 228.69 L646.10 228.76 L646.60 228.82 L647.10 228.89 L647.60 228.95 L648.10 229.01 L648.60 229.07 L649.10 229.13 L649.60 229.18 L650.10 229.23 L650.60 229.28 L651.10 229.32 L651.60 229.36 L652.10 229.39 L652.60 229.42 L653.10 229.45 L653.60 229.47 L654.10 229.49 L654.60 229.50 L655.10 229.50 L655.60 229.50 L656.10 229.51 L656.60 229.51 L657.10 229.51 L657.60 229.52 L658.10 229.52 L658.60 229.52 L659.10 229.52 L659.60 229.53 L660.10 229.53 L660.60 229.53 L661.10 229.53 L661.60 229.54 L662.10 229.54 L662.60 229.54 L663.10 229.54 L663.60 229.55 L664.10 229.55 L664.60 229.55 L665.10 229.55 L665.60 229.56 L666.10 229.56 L666.60 229.56 L667.10 229.56 L667.60 229.57 L668.10 229.57 L668.60 229.57 L669.10 229.57 L669.60 229.58 L670.10 229.58 L670.60 229.58 L671.10 229.58 L671.60 229.58 L672.10 229.59 L672.60 229.59 L673.10 229.59 L673.60 229.59 L674.10 229.59 L674.60 229.60 L675.10 229.60 L675.60 229.60 L676.10 229.60 L676.60 229.60 L677.10 229.61 L677.60 229.61 L678.10 229.61 L678.60 229.61 L679.10 229.61 L679.60 229.62 L680.10 229.62 L680.60 229.62 L681.10 229.62 L681.60 229.62 L682.10 229.62 L682.60 229.63 L683.10 229.63 L683.60 229.63 L684.10 229.63 L684.60 229.63 L685.10 229.63 L685.60 229.63 L686.10 229.64 L686.60 229.64 L687.10 229.64 L687.60 229.64 L688.10 229.64 L688.60 229.64 L689.10 229.64 L689.60 229.65 L690.10 229.65 L690.60 229.65 L691.10 229.65 L691.60 229.65 L692.10 229.65 L692.60 229.65 L693.10 229.65 L693.60 229.66 L694.10 229.66 L694.60 229.66 L695.10 229.66 L695.60 229.66 L696.10 229.66 L696.60 229.66 L697.10 229.66 L697.60 229.66 L698.10 229.66 L698.60 229.67 L699.10 229.67 L699.60 229.67 L700.10 229.67 L700.60 229.67 L701.10 229.67 L701.60 229.67 L702.10 229.67 L702.60 229.67 L703.10 229.67 L703.60 229.67 L704.10 229.68 L704.60 229.68 L705.10 229.68 L705.60 229.68 L706.10 229.68 L706.60 229.68 L707.10 229.68 L707.60 229.68 L708.10 229.68 L708.60 229.68 L709.10 229.68 L709.60 229.68 L710.10 229.68 L710.60 229.68 L711.10 229.68 L711.60 229.69 L712.10 229.69 L712.60 229.69 L713.10 229.69 L713.60 229.69 L714.10 229.69 L714.60 229.69 L715.10 229.69 L715.60 229.69 L716.10 229.69 L716.60 229.69 L717.10 229.69 L717.60 229.69 L718.10 229.69 L718.60 229.69 L719.10 229.69 L719.60 229.69 L720.10 229.69 L720.60 229.69 L721.10 229.69 L721.60 229.69 L722.10 229.69 L722.60 229.69 L723.10 229.70 L723.60 229.70 L724.10 229.70 L724.60 229.70 L725.10 229.70 L725.60 229.70 L726.10 229.70 L726.60 229.70 L727.10 229.70 L727.60 229.70 L728.10 229.70 L728.60 229.70 L729.10 229.70 L729.60 229.70 L730.10 229.70 L730.60 229.70 L731.10 229.70 L731.60 229.70 L732.10 229.70 L732.60 229.70 L733.10 229.70 L733.60 229.70 L734.10 229.70 L734.60 229.70 L735.10 229.70 L735.60 229.70 L736.10 229.70 L736.60 229.70 L737.10 229.70 L737.60 229.70 L738.10 229.70 L738.60 229.70 L739.10 229.70 L739.60 229.70 L740.10 229.70 L740.60 229.70 L741.10 229.70 L741.60 229.70" fill="none" stroke="#22A05C" stroke-width="2.60" stroke-linejoin="round" stroke-linecap="round" />
<path d="M563.10 229.70 L563.60 229.70 L564.10 229.70 L564.60 229.70 L565.10 229.70 L565.60 229.70 L566.10 229.70 L566.60 229.70 L567.10 229.70 L567.60 229.70 L568.10 229.70 L568.60 229.70 L569.10 229.70 L569.60 229.69 L570.10 229.69 L570.60 229.69 L571.10 229.69 L571.60 229.69 L572.10 229.69 L572.60 229.69 L573.10 229.69 L573.60 229.68 L574.10 229.68 L574.60 229.68 L575.10 229.68 L575.60 229.68 L576.10 229.67 L576.60 229.67 L577.10 229.67 L577.60 229.67 L578.10 229.66 L578.60 229.66 L579.10 229.66 L579.60 229.65 L580.10 229.65 L580.60 229.65 L581.10 229.64 L581.60 229.64 L582.10 229.64 L582.60 229.63 L583.10 229.63 L583.60 229.62 L584.10 229.62 L584.60 229.61 L585.10 229.61 L585.60 229.60 L586.10 229.60 L586.60 229.59 L587.10 229.56 L587.60 229.53 L588.10 229.48 L588.60 229.42 L589.10 229.35 L589.60 229.27 L590.10 229.19 L590.60 229.09 L591.10 228.97 L591.60 228.77 L592.10 228.44 L592.60 228.00 L593.10 227.46 L593.60 226.83 L594.10 226.12 L594.60 225.33 L595.10 224.08 L595.60 222.37 L596.10 220.42 L596.60 218.45 L597.10 216.66 L597.60 214.93 L598.10 213.18 L598.60 211.43 L599.10 209.75 L599.60 208.16 L600.10 206.72 L600.60 205.30 L601.10 203.92 L601.60 202.66 L602.10 201.62 L602.60 200.87 L603.10 200.26 L603.60 199.68 L604.10 199.19 L604.60 198.80 L605.10 198.56 L605.60 198.51 L606.10 198.70 L606.60 199.13 L607.10 199.72 L607.60 200.41 L608.10 201.16 L608.60 202.15 L609.10 203.45 L609.60 204.97 L610.10 206.63 L610.60 208.36 L611.10 210.47 L611.60 212.96 L612.10 215.54 L612.60 217.94 L613.10 219.90 L613.60 221.28 L614.10 222.46 L614.60 223.52 L615.10 224.44 L615.60 225.25 L616.10 225.95 L616.60 226.56 L617.10 227.13 L617.60 227.65 L618.10 228.10 L618.60 228.43 L619.10 228.63 L619.60 228.78 L620.10 228.91 L620.60 229.04 L621.10 229.15 L621.60 229.26 L622.10 229.35 L622.60 229.42 L623.10 229.49 L623.60 229.54 L624.10 229.57 L624.60 229.59 L625.10 229.60 L625.60 229.60 L626.10 229.60 L626.60 229.60 L627.10 229.61 L627.60 229.61 L628.10 229.61 L628.60 229.61 L629.10 229.61 L629.60 229.61 L630.10 229.61 L630.60 229.61 L631.10 229.61 L631.60 229.62 L632.10 229.62 L632.60 229.62 L633.10 229.62 L633.60 229.62 L634.10 229.62 L634.60 229.62 L635.10 229.62 L635.60 229.62 L636.10 229.62 L636.60 229.63 L637.10 229.63 L637.60 229.63 L638.10 229.63 L638.60 229.63 L639.10 229.63 L639.60 229.63 L640.10 229.63 L640.60 229.63 L641.10 229.63 L641.60 229.64 L642.10 229.64 L642.60 229.64 L643.10 229.64 L643.60 229.64 L644.10 229.64 L644.60 229.64 L645.10 229.64 L645.60 229.64 L646.10 229.64 L646.60 229.64 L647.10 229.64 L647.60 229.65 L648.10 229.65 L648.60 229.65 L649.10 229.65 L649.60 229.65 L650.10 229.65 L650.60 229.65 L651.10 229.65 L651.60 229.65 L652.10 229.65 L652.60 229.65 L653.10 229.65 L653.60 229.65 L654.10 229.66 L654.60 229.66 L655.10 229.66 L655.60 229.66 L656.10 229.66 L656.60 229.66 L657.10 229.66 L657.60 229.66 L658.10 229.66 L658.60 229.66 L659.10 229.66 L659.60 229.66 L660.10 229.66 L660.60 229.66 L661.10 229.66 L661.60 229.67 L662.10 229.67 L662.60 229.67 L663.10 229.67 L663.60 229.67 L664.10 229.67 L664.60 229.67 L665.10 229.67 L665.60 229.67 L666.10 229.67 L666.60 229.67 L667.10 229.67 L667.60 229.67 L668.10 229.67 L668.60 229.67 L669.10 229.67 L669.60 229.67 L670.10 229.67 L670.60 229.67 L671.10 229.68 L671.60 229.68 L672.10 229.68 L672.60 229.68 L673.10 229.68 L673.60 229.68 L674.10 229.68 L674.60 229.68 L675.10 229.68 L675.60 229.68 L676.10 229.68 L676.60 229.68 L677.10 229.68 L677.60 229.68 L678.10 229.68 L678.60 229.68 L679.10 229.68 L679.60 229.68 L680.10 229.68 L680.60 229.68 L681.10 229.68 L681.60 229.68 L682.10 229.68 L682.60 229.68 L683.10 229.69 L683.60 229.69 L684.10 229.69 L684.60 229.69 L685.10 229.69 L685.60 229.69 L686.10 229.69 L686.60 229.69 L687.10 229.69 L687.60 229.69 L688.10 229.69 L688.60 229.69 L689.10 229.69 L689.60 229.69 L690.10 229.69 L690.60 229.69 L691.10 229.69 L691.60 229.69 L692.10 229.69 L692.60 229.69 L693.10 229.69 L693.60 229.69 L694.10 229.69 L694.60 229.69 L695.10 229.69 L695.60 229.69 L696.10 229.69 L696.60 229.69 L697.10 229.69 L697.60 229.69 L698.10 229.69 L698.60 229.69 L699.10 229.69 L699.60 229.69 L700.10 229.69 L700.60 229.69 L701.10 229.69 L701.60 229.69 L702.10 229.69 L702.60 229.70 L703.10 229.70 L703.60 229.70 L704.10 229.70 L704.60 229.70 L705.10 229.70 L705.60 229.70 L706.10 229.70 L706.60 229.70 L707.10 229.70 L707.60 229.70 L708.10 229.70 L708.60 229.70 L709.10 229.70 L709.60 229.70 L710.10 229.70 L710.60 229.70 L711.10 229.70 L711.60 229.70 L712.10 229.70 L712.60 229.70 L713.10 229.70 L713.60 229.70 L714.10 229.70 L714.60 229.70 L715.10 229.70 L715.60 229.70 L716.10 229.70 L716.60 229.70 L717.10 229.70 L717.60 229.70 L718.10 229.70 L718.60 229.70 L719.10 229.70 L719.60 229.70 L720.10 229.70 L720.60 229.70 L721.10 229.70 L721.60 229.70 L722.10 229.70 L722.60 229.70 L723.10 229.70 L723.60 229.70 L724.10 229.70 L724.60 229.70 L725.10 229.70 L725.60 229.70 L726.10 229.70 L726.60 229.70 L727.10 229.70 L727.60 229.70 L728.10 229.70 L728.60 229.70 L729.10 229.70 L729.60 229.70 L730.10 229.70 L730.60 229.70 L731.10 229.70 L731.60 229.70 L732.10 229.70 L732.60 229.70 L733.10 229.70 L733.60 229.70 L734.10 229.70 L734.60 229.70 L735.10 229.70 L735.60 229.70 L736.10 229.70 L736.60 229.70 L737.10 229.70 L737.60 229.70 L738.10 229.70 L738.60 229.70 L739.10 229.70 L739.60 229.70 L740.10 229.70 L740.60 229.70 L741.10 229.70 L741.60 229.70" fill="none" stroke="#7E3F82" stroke-width="2.60" stroke-linejoin="round" stroke-linecap="round" />
<path d="M563.10 229.90 L563.60 229.90 L564.10 229.90 L564.60 229.90 L565.10 229.90 L565.60 229.90 L566.10 229.90 L566.60 229.90 L567.10 229.90 L567.60 229.90 L568.10 229.90 L568.60 229.89 L569.10 229.89 L569.60 229.89 L570.10 229.89 L570.60 229.89 L571.10 229.89 L571.60 229.89 L572.10 229.89 L572.60 229.88 L573.10 229.88 L573.60 229.88 L574.10 229.88 L574.60 229.88 L575.10 229.87 L575.60 229.87 L576.10 229.87 L576.60 229.87 L577.10 229.86 L577.60 229.86 L578.10 229.86 L578.60 229.85 L579.10 229.85 L579.60 229.85 L580.10 229.84 L580.60 229.84 L581.10 229.84 L581.60 229.83 L582.10 229.83 L582.60 229.82 L583.10 229.82 L583.60 229.81 L584.10 229.81 L584.60 229.80 L585.10 229.80 L585.60 229.79 L586.10 229.78 L586.60 229.76 L587.10 229.74 L587.60 229.71 L588.10 229.68 L588.60 229.64 L589.10 229.59 L589.60 229.54 L590.10 229.49 L590.60 229.36 L591.10 229.14 L591.60 228.87 L592.10 228.56 L592.60 228.25 L593.10 227.94 L593.60 227.62 L594.10 227.28 L594.60 226.91 L595.10 226.53 L595.60 226.13 L596.10 225.73 L596.60 225.32 L597.10 224.92 L597.60 224.49 L598.10 224.02 L598.60 223.55 L599.10 223.09 L599.60 222.65 L600.10 222.26 L600.60 221.94 L601.10 221.64 L601.60 221.33 L602.10 221.03 L602.60 220.75 L603.10 220.49 L603.60 220.28 L604.10 220.12 L604.60 220.03 L605.10 220.00 L605.60 220.07 L606.10 220.22 L606.60 220.45 L607.10 220.72 L607.60 221.04 L608.10 221.38 L608.60 221.73 L609.10 222.07 L609.60 222.47 L610.10 222.95 L610.60 223.48 L611.10 224.03 L611.60 224.58 L612.10 225.11 L612.60 225.59 L613.10 226.07 L613.60 226.56 L614.10 227.04 L614.60 227.50 L615.10 227.91 L615.60 228.27 L616.10 228.55 L616.60 228.81 L617.10 229.06 L617.60 229.28 L618.10 229.46 L618.60 229.57 L619.10 229.60 L619.60 229.60 L620.10 229.61 L620.60 229.61 L621.10 229.61 L621.60 229.61 L622.10 229.61 L622.60 229.62 L623.10 229.62 L623.60 229.62 L624.10 229.62 L624.60 229.63 L625.10 229.63 L625.60 229.63 L626.10 229.63 L626.60 229.63 L627.10 229.64 L627.60 229.64 L628.10 229.64 L628.60 229.64 L629.10 229.64 L629.60 229.65 L630.10 229.65 L630.60 229.65 L631.10 229.65 L631.60 229.65 L632.10 229.66 L632.60 229.66 L633.10 229.66 L633.60 229.66 L634.10 229.66 L634.60 229.67 L635.10 229.67 L635.60 229.67 L636.10 229.67 L636.60 229.67 L637.10 229.67 L637.60 229.68 L638.10 229.68 L638.60 229.68 L639.10 229.68 L639.60 229.68 L640.10 229.68 L640.60 229.69 L641.10 229.69 L641.60 229.69 L642.10 229.69 L642.60 229.69 L643.10 229.69 L643.60 229.70 L644.10 229.70 L644.60 229.70 L645.10 229.70 L645.60 229.70 L646.10 229.70 L646.60 229.70 L647.10 229.71 L647.60 229.71 L648.10 229.71 L648.60 229.71 L649.10 229.71 L649.60 229.71 L650.10 229.71 L650.60 229.72 L651.10 229.72 L651.60 229.72 L652.10 229.72 L652.60 229.72 L653.10 229.72 L653.60 229.72 L654.10 229.72 L654.60 229.73 L655.10 229.73 L655.60 229.73 L656.10 229.73 L656.60 229.73 L657.10 229.73 L657.60 229.73 L658.10 229.73 L658.60 229.74 L659.10 229.74 L659.60 229.74 L660.10 229.74 L660.60 229.74 L661.10 229.74 L661.60 229.74 L662.10 229.74 L662.60 229.74 L663.10 229.74 L663.60 229.75 L664.10 229.75 L664.60 229.75 L665.10 229.75 L665.60 229.75 L666.10 229.75 L666.60 229.75 L667.10 229.75 L667.60 229.75 L668.10 229.75 L668.60 229.76 L669.10 229.76 L669.60 229.76 L670.10 229.76 L670.60 229.76 L671.10 229.76 L671.60 229.76 L672.10 229.76 L672.60 229.76 L673.10 229.76 L673.60 229.76 L674.10 229.76 L674.60 229.76 L675.10 229.77 L675.60 229.77 L676.10 229.77 L676.60 229.77 L677.10 229.77 L677.60 229.77 L678.10 229.77 L678.60 229.77 L679.10 229.77 L679.60 229.77 L680.10 229.77 L680.60 229.77 L681.10 229.77 L681.60 229.77 L682.10 229.77 L682.60 229.78 L683.10 229.78 L683.60 229.78 L684.10 229.78 L684.60 229.78 L685.10 229.78 L685.60 229.78 L686.10 229.78 L686.60 229.78 L687.10 229.78 L687.60 229.78 L688.10 229.78 L688.60 229.78 L689.10 229.78 L689.60 229.78 L690.10 229.78 L690.60 229.78 L691.10 229.78 L691.60 229.78 L692.10 229.78 L692.60 229.79 L693.10 229.79 L693.60 229.79 L694.10 229.79 L694.60 229.79 L695.10 229.79 L695.60 229.79 L696.10 229.79 L696.60 229.79 L697.10 229.79 L697.60 229.79 L698.10 229.79 L698.60 229.79 L699.10 229.79 L699.60 229.79 L700.10 229.79 L700.60 229.79 L701.10 229.79 L701.60 229.79 L702.10 229.79 L702.60 229.79 L703.10 229.79 L703.60 229.79 L704.10 229.79 L704.60 229.79 L705.10 229.79 L705.60 229.79 L706.10 229.79 L706.60 229.79 L707.10 229.79 L707.60 229.79 L708.10 229.79 L708.60 229.80 L709.10 229.80 L709.60 229.80 L710.10 229.80 L710.60 229.80 L711.10 229.80 L711.60 229.80 L712.10 229.80 L712.60 229.80 L713.10 229.80 L713.60 229.80 L714.10 229.80 L714.60 229.80 L715.10 229.80 L715.60 229.80 L716.10 229.80 L716.60 229.80 L717.10 229.80 L717.60 229.80 L718.10 229.80 L718.60 229.80 L719.10 229.80 L719.60 229.80 L720.10 229.80 L720.60 229.80 L721.10 229.80 L721.60 229.80 L722.10 229.80 L722.60 229.80 L723.10 229.80 L723.60 229.80 L724.10 229.80 L724.60 229.80 L725.10 229.80 L725.60 229.80 L726.10 229.80 L726.60 229.80 L727.10 229.80 L727.60 229.80 L728.10 229.80 L728.60 229.80 L729.10 229.80 L729.60 229.80 L730.10 229.80 L730.60 229.80 L731.10 229.80 L731.60 229.80 L732.10 229.80 L732.60 229.80 L733.10 229.80 L733.60 229.80 L734.10 229.80 L734.60 229.80 L735.10 229.80 L735.60 229.80 L736.10 229.80 L736.60 229.80 L737.10 229.80 L737.60 229.80 L738.10 229.80 L738.60 229.80 L739.10 229.80 L739.60 229.80 L740.10 229.80 L740.60 229.80 L741.10 229.80 L741.60 229.80" fill="none" stroke="#111" stroke-width="2.60" stroke-linejoin="round" stroke-linecap="round" />
<path d="M563.7 41.6 V229.7 M563.2 229.7 H741.8" stroke="#000" stroke-width="2.6" fill="none" stroke-linecap="round"/>
<path d="M560.3 229.70 H564" stroke="#000" stroke-width="2.2"/>
<text x="552.70" y="234.30" font-family="'Liberation Sans', sans-serif" font-size="11.00" font-weight="bold" text-anchor="end" fill="#1a1a1a" >0.0</text>
<path d="M560.3 192.02 H564" stroke="#000" stroke-width="2.2"/>
<text x="552.70" y="196.62" font-family="'Liberation Sans', sans-serif" font-size="11.00" font-weight="bold" text-anchor="end" fill="#1a1a1a" >0.2</text>
<path d="M560.3 154.34 H564" stroke="#000" stroke-width="2.2"/>
<text x="552.70" y="158.94" font-family="'Liberation Sans', sans-serif" font-size="11.00" font-weight="bold" text-anchor="end" fill="#1a1a1a" >0.4</text>
<path d="M560.3 116.66 H564" stroke="#000" stroke-width="2.2"/>
<text x="552.70" y="121.26" font-family="'Liberation Sans', sans-serif" font-size="11.00" font-weight="bold" text-anchor="end" fill="#1a1a1a" >0.6</text>
<path d="M560.3 78.98 H564" stroke="#000" stroke-width="2.2"/>
<text x="552.70" y="83.58" font-family="'Liberation Sans', sans-serif" font-size="11.00" font-weight="bold" text-anchor="end" fill="#1a1a1a" >0.8</text>
<path d="M560.3 41.30 H564" stroke="#000" stroke-width="2.2"/>
<text x="552.70" y="45.90" font-family="'Liberation Sans', sans-serif" font-size="11.00" font-weight="bold" text-anchor="end" fill="#1a1a1a" >1.0</text>
<path d="M563.10 229.5 V233.8" stroke="#000" stroke-width="2.2"/>
<text x="564.10" y="248.60" font-family="'Liberation Sans', sans-serif" font-size="11.20" font-weight="bold" text-anchor="middle" fill="#1a1a1a" >350</text>
<path d="M598.80 229.5 V233.8" stroke="#000" stroke-width="2.2"/>
<text x="599.80" y="248.60" font-family="'Liberation Sans', sans-serif" font-size="11.20" font-weight="bold" text-anchor="middle" fill="#1a1a1a" >370</text>
<path d="M634.50 229.5 V233.8" stroke="#000" stroke-width="2.2"/>
<text x="635.50" y="248.60" font-family="'Liberation Sans', sans-serif" font-size="11.20" font-weight="bold" text-anchor="middle" fill="#1a1a1a" >390</text>
<path d="M670.20 229.5 V233.8" stroke="#000" stroke-width="2.2"/>
<text x="671.20" y="248.60" font-family="'Liberation Sans', sans-serif" font-size="11.20" font-weight="bold" text-anchor="middle" fill="#1a1a1a" >410</text>
<path d="M705.90 229.5 V233.8" stroke="#000" stroke-width="2.2"/>
<text x="706.90" y="248.60" font-family="'Liberation Sans', sans-serif" font-size="11.20" font-weight="bold" text-anchor="middle" fill="#1a1a1a" >430</text>
<path d="M741.60 229.5 V233.8" stroke="#000" stroke-width="2.2"/>
<text x="742.60" y="248.60" font-family="'Liberation Sans', sans-serif" font-size="11.20" font-weight="bold" text-anchor="middle" fill="#1a1a1a" >450</text>
<text x="652.60" y="268.40" font-family="'Liberation Sans', sans-serif" font-size="11.00" font-weight="bold" text-anchor="middle" fill="#1a1a1a" >Wavelength (nm)</text>
<text transform="translate(529 135) rotate(-90)" font-family="'Liberation Sans', sans-serif" font-size="11" font-weight="bold" text-anchor="middle" fill="#1a1a1a">Intensity (a.u.)</text>
<text x="640.60" y="17.00" font-family="'Liberation Sans', sans-serif" font-size="13.40" font-weight="bold" text-anchor="middle" fill="#1a1a1a" >Pyrene / water</text>
<text x="744.20" y="15.40" font-family="'Liberation Sans', sans-serif" font-size="12.00" font-weight="bold" text-anchor="middle" fill="#1a1a1a" >(c)</text>
<path d="M643.4 81.30 H676.4" stroke="#B01E2A" stroke-width="2.4"/>
<text x="679.4" y="85.10" font-family="'Liberation Sans', sans-serif" font-size="11" font-weight="bold" fill="#1a1a1a" letter-spacing="0.1">6x10<tspan font-size="9" dy="-4.1" dx="0.3">−</tspan><tspan font-size="6.2" dy="-1.4">7</tspan><tspan dy="5.5" dx="1.0">M</tspan></text>
<path d="M643.4 108.15 H676.4" stroke="#378C64" stroke-width="2.4"/>
<text x="679.4" y="111.95" font-family="'Liberation Sans', sans-serif" font-size="11" font-weight="bold" fill="#1a1a1a" letter-spacing="0.1">10<tspan font-size="9" dy="-4.1" dx="0.3">−</tspan><tspan font-size="6.2" dy="-1.4">7</tspan><tspan dy="5.5" dx="1.0">M</tspan><tspan dx="1.3">(x3)</tspan></text>
<path d="M643.4 135.00 H676.4" stroke="#6A3868" stroke-width="2.4"/>
<text x="679.4" y="138.80" font-family="'Liberation Sans', sans-serif" font-size="11" font-weight="bold" fill="#1a1a1a" letter-spacing="0.1">10<tspan font-size="9" dy="-4.1" dx="0.3">−</tspan><tspan font-size="6.2" dy="-1.4">8</tspan><tspan dy="5.5" dx="1.0">M</tspan><tspan dx="1.3">(x15)</tspan></text>
<path d="M643.4 161.85 H676.4" stroke="#111" stroke-width="2.4"/>
<text x="679.4" y="165.65" font-family="'Liberation Sans', sans-serif" font-size="11" font-weight="bold" fill="#1a1a1a" letter-spacing="0.1">10<tspan font-size="9" dy="-4.1" dx="0.3">−</tspan><tspan font-size="6.2" dy="-1.4">9</tspan><tspan dy="5.5" dx="1.0">M</tspan><tspan dx="1.3">(x50)</tspan></text>
</g>
</svg></body></html>
